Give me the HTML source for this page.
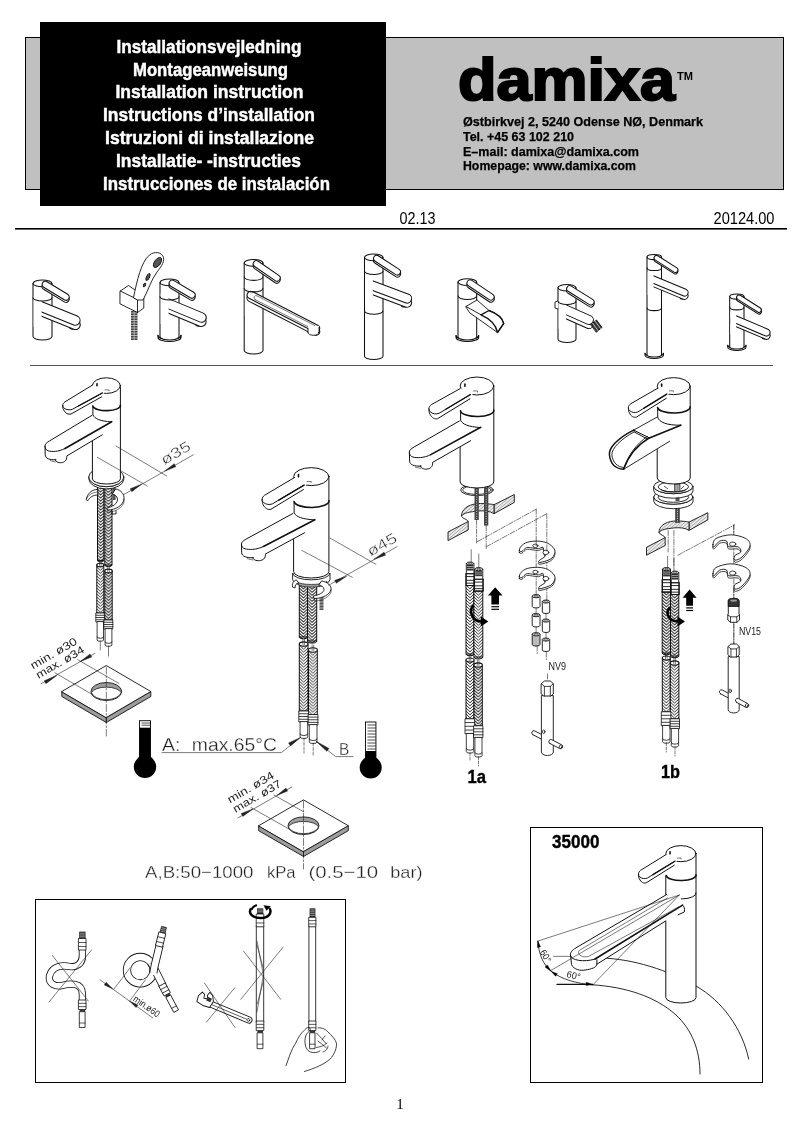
<!DOCTYPE html>
<html><head><meta charset="utf-8">
<style>
html,body{margin:0;padding:0;background:#fff;}
body{width:802px;height:1134px;overflow:hidden;position:relative;font-family:"Liberation Sans",sans-serif;}
svg{position:absolute;left:0;top:0;display:block}
text{font-family:"Liberation Sans",sans-serif;}
.hb{font-weight:bold;font-size:18px;fill:#fff;stroke:#fff;stroke-width:.45}
.ad{font-weight:bold;font-size:13px;fill:#000;stroke:#000;stroke-width:.25}
.ln{fill:none;stroke:#111;stroke-width:1;stroke-linecap:round;stroke-linejoin:round}
.th{fill:none;stroke:#222;stroke-width:.6;stroke-linecap:round;stroke-linejoin:round}
.wf{fill:#fff;stroke:#111;stroke-width:1;stroke-linecap:round;stroke-linejoin:round}
</style></head>
<body>
<svg width="802" height="1134" viewBox="0 0 802 1134" style="filter:grayscale(1)">
<defs>
<pattern id="braid" width="4" height="3.2" patternUnits="userSpaceOnUse">
<rect width="4" height="3.2" fill="#fff"/>
<path d="M-0.5 -0.5L2 2L4.5 -0.5M-0.5 2.7L2 5.2L4.5 2.7" stroke="#222" stroke-width=".85" fill="none"/>
</pattern>
<pattern id="hat" width="2.4" height="2.4" patternUnits="userSpaceOnUse" patternTransform="rotate(-40)">
<rect width="2.4" height="2.4" fill="#eee"/>
<path d="M0 0H2.4" stroke="#333" stroke-width=".6"/>
</pattern>
<pattern id="hat2" width="2" height="2" patternUnits="userSpaceOnUse">
<rect width="2" height="2" fill="#d8d8d8"/>
<path d="M0 0L2 2M2 0L0 2" stroke="#555" stroke-width=".45"/>
</pattern>
</defs>
<!-- HEADER -->
<g id="header">
<rect x="25.5" y="37.5" width="758" height="152" fill="#c0c0c0" stroke="#000" stroke-width="1"/>
<rect x="40" y="22" width="346" height="184" fill="#000"/>
<text class="hb" x="116.5" y="52.8" textLength="185" lengthAdjust="spacingAndGlyphs">Installationsvejledning</text>
<text class="hb" x="133" y="75.6" textLength="155" lengthAdjust="spacingAndGlyphs">Montageanweisung</text>
<text class="hb" x="115.5" y="98.4" textLength="188" lengthAdjust="spacingAndGlyphs">Installation instruction</text>
<text class="hb" x="103" y="121.2" textLength="212" lengthAdjust="spacingAndGlyphs">Instructions d’installation</text>
<text class="hb" x="105" y="144" textLength="209" lengthAdjust="spacingAndGlyphs">Istruzioni di installazione</text>
<text class="hb" x="116" y="166.8" textLength="185" lengthAdjust="spacingAndGlyphs">Installatie- -instructies</text>
<text class="hb" x="103" y="189.6" textLength="227" lengthAdjust="spacingAndGlyphs">Instrucciones de instalación</text>
<text x="458" y="100" font-weight="bold" font-size="60" textLength="217" lengthAdjust="spacingAndGlyphs" fill="#000" stroke="#000" stroke-width="2.2">damixa</text>
<text x="677" y="79.5" font-weight="bold" font-size="10" textLength="16" lengthAdjust="spacingAndGlyphs">TM</text>
<text class="ad" x="463" y="126" textLength="240" lengthAdjust="spacingAndGlyphs">Østbirkvej 2, 5240 Odense NØ, Denmark</text>
<text class="ad" x="463" y="141" textLength="111" lengthAdjust="spacingAndGlyphs">Tel. +45 63 102 210</text>
<text class="ad" x="463" y="156" textLength="176" lengthAdjust="spacingAndGlyphs">E–mail: damixa@damixa.com</text>
<text class="ad" x="463" y="170" textLength="173" lengthAdjust="spacingAndGlyphs">Homepage: www.damixa.com</text>
<text x="399.6" y="223.8" font-size="17" textLength="36" lengthAdjust="spacingAndGlyphs">02.13</text>
<text x="713.5" y="223.8" font-size="17" textLength="61" lengthAdjust="spacingAndGlyphs">20124.00</text>
<rect x="15" y="228" width="772" height="1.6" fill="#000"/>
<rect x="30" y="365" width="743" height="1" fill="#555"/>
</g>
<g id="thumbs"><g><path class="wf" style="stroke-width:1.05" d="M33 283.42 V336.58 A9.5 3.42 0 0 0 52 336.58 V283.42 A9.5 3.42 0 0 0 33 283.42 Z"/><path class="ln" style="stroke-width:1.05" d="M33 283.42 A9.5 3.42 0 0 0 52 283.42"/><ellipse class="wf" style="stroke-width:1.05" cx="72.65" cy="327.62" rx="2.85" ry="1.62"/><path class="wf" style="stroke-width:1.05" d="M37.87 314.68 L73.72 329.18 A4.75 4.75 0 0 0 77.28 320.37 L41.43 305.87 A4.75 4.75 0 0 0 37.87 314.68 Z"/><path class="wf" style="stroke-width:1.05" d="M37.87 310.4 L73.72 324.9 A4.75 4.75 0 0 0 77.28 316.1 L41.43 301.6 A4.75 4.75 0 0 0 37.87 310.4 Z"/><path fill="#fff" d="M33.62 296.5 H41.55 V326.9 H33.62 Z"/><path class="ln" style="stroke-width:1.05" d="M33 297.67 A9.5 3.42 0 0 0 52 297.67"/><path class="wf" style="stroke-width:1.05" d="M43.67 289.3 L64.32 301.85 A3.23 3.23 0 0 0 67.68 296.33 L47.03 283.78 A3.23 3.23 0 0 0 43.67 289.3 Z"/><path class="wf" style="stroke-width:1.05" d="M43.67 287.21 L64.32 299.76 A3.23 3.23 0 0 0 67.68 294.24 L47.03 281.69 A3.23 3.23 0 0 0 43.67 287.21 Z"/></g><g><path class="wf" style="stroke-width:1.05" d="M158 335.38 A11.5 4.14 0 0 0 181 335.38 V337.38 A11.5 4.14 0 0 1 158 337.38 Z"/><path class="ln" style="stroke-width:1.05" d="M158 335.38 A11.5 4.14 0 0 0 181 335.38"/><path class="wf" style="stroke-width:1.05" d="M160 282.42 V336.58 A9.5 3.42 0 0 0 179 336.58 V282.42 A9.5 3.42 0 0 0 160 282.42 Z"/><path class="ln" style="stroke-width:1.05" d="M160 282.42 A9.5 3.42 0 0 0 179 282.42"/><ellipse class="wf" style="stroke-width:1.05" cx="198.65" cy="324.62" rx="2.85" ry="1.62"/><path class="wf" style="stroke-width:1.05" d="M164.83 311.66 L199.68 326.16 A4.75 4.75 0 0 0 203.32 317.39 L168.47 302.89 A4.75 4.75 0 0 0 164.83 311.66 Z"/><path class="wf" style="stroke-width:1.05" d="M164.83 307.39 L199.68 321.89 A4.75 4.75 0 0 0 203.32 313.11 L168.47 298.61 A4.75 4.75 0 0 0 164.83 307.39 Z"/><path fill="#fff" d="M160.62 293.5 H168.55 V323.9 H160.62 Z"/><path class="ln" style="stroke-width:1.05" d="M160 296.67 A9.5 3.42 0 0 0 179 296.67"/><path class="wf" style="stroke-width:1.05" d="M170.71 288.32 L190.36 299.87 A3.23 3.23 0 0 0 193.64 294.31 L173.99 282.75 A3.23 3.23 0 0 0 170.71 288.32 Z"/><path class="wf" style="stroke-width:1.05" d="M170.71 286.23 L190.36 297.78 A3.23 3.23 0 0 0 193.64 292.22 L173.99 280.66 A3.23 3.23 0 0 0 170.71 286.23 Z"/></g><g class="wf" style="stroke-width:.9"><rect x="131" y="311" width="6.5" height="29" fill="#444" stroke="none"/><path d="M131 313h6.5M131 315.5h6.5M131 318h6.5M131 320.5h6.5M131 323h6.5M131 325.5h6.5M131 328h6.5M131 330.500h6.5M131 333h6.5M131 335.5h6.5M131 338h6.5" stroke="#fff" stroke-width=".6"/><path d="M134.2 311V340" stroke="#fff" stroke-width=".5" stroke-dasharray="1.5 1"/><path d="M120.3 291 L128.5 285.5 L143.8 296 L143.8 308 L137.5 312.5 L120.3 304 Z"/><path class="ln" style="stroke-width:.9" d="M120.3 291 L137.5 299.500 L143.8 296 M137.5 299.5 V312.5"/><path d="M133.500 297.500 C137 281 141 262 149.500 255 C154.500 251 162 252 163.500 257.500 C164.500 263 160 268 157 272 C151 280 148 291 143 300 L138 300 Z"/><ellipse cx="157.5" cy="262.5" rx="3" ry="5.8" transform="rotate(35 157.5 262.5)" fill="#555"/><ellipse cx="148" cy="277" rx="1.5" ry="3.6" transform="rotate(25 148 277)" fill="#555"/><ellipse cx="144.5" cy="285" rx="1" ry="2" transform="rotate(25 144.5 285)" fill="#555"/></g><g><path class="wf" style="stroke-width:1.05" d="M244.2 262.88 V350.62 A9.4 3.38 0 0 0 263 350.62 V262.88 A9.4 3.38 0 0 0 244.2 262.88 Z"/><path class="ln" style="stroke-width:1.05" d="M244.2 262.88 A9.4 3.38 0 0 0 263 262.88"/><path class="wf" style="stroke-width:1.05" d="M249.06 301.35 L314.28 334.85 A3.76 3.76 0 0 0 317.72 328.16 L252.5 294.66 A3.76 3.76 0 0 0 249.06 301.35 Z"/><path class="wf" style="stroke-width:1.05" d="M249.06 298.34 L314.28 331.84 A3.76 3.76 0 0 0 317.72 325.16 L252.5 291.66 A3.76 3.76 0 0 0 249.06 298.34 Z"/><path class="th" d="M255.05 299.52 L313.1 329.33 A2.07 2.07 0 0 0 314.99 325.66 L256.94 295.84 A2.07 2.07 0 0 0 255.05 299.52 Z"/><path fill="#fff" d="M244.82 285.6 H244.67 V315.68 H244.82 Z"/><path class="ln" style="stroke-width:1.05" d="M244.2 276.98 A9.4 3.38 0 0 0 263 276.98"/><path class="ln" style="stroke-width:1.05" d="M244.2 288.5 A9.4 3.38 0 0 0 263 288.5"/><path class="wf" style="stroke-width:1.05" d="M254.61 268.6 L275.19 282.7 A3.2 3.2 0 0 0 278.81 277.43 L258.23 263.33 A3.2 3.2 0 0 0 254.61 268.6 Z"/><path class="wf" style="stroke-width:1.05" d="M254.61 266.54 L275.19 280.64 A3.2 3.2 0 0 0 278.81 275.36 L258.23 261.26 A3.2 3.2 0 0 0 254.61 266.54 Z"/></g><ellipse class="wf" style="stroke-width:.9" cx="313.5" cy="332.5" rx="5.5" ry="2.8"/><path fill="#fff" d="M308 326h11v6h-11z"/><path class="ln" style="stroke-width:.9" d="M308 328.5 V332.5 M319 327.5 V332.500"/><g><path class="wf" style="stroke-width:1.05" d="M364.5 257.33 V356.17 A9.25 3.33 0 0 0 383 356.17 V257.33 A9.25 3.33 0 0 0 364.5 257.33 Z"/><path class="ln" style="stroke-width:1.05" d="M364.5 257.33 A9.25 3.33 0 0 0 383 257.33"/><ellipse class="wf" style="stroke-width:1.05" cx="404.23" cy="305.44" rx="2.77" ry="1.57"/><path class="wf" style="stroke-width:1.05" d="M369.35 293.49 L405.38 306.99 A4.62 4.62 0 0 0 408.62 298.33 L372.6 284.83 A4.62 4.62 0 0 0 369.35 293.49 Z"/><path class="wf" style="stroke-width:1.05" d="M369.35 289.33 L405.38 302.83 A4.62 4.62 0 0 0 408.62 294.17 L372.6 280.67 A4.62 4.62 0 0 0 369.35 289.33 Z"/><path fill="#fff" d="M365.12 275.75 H372.82 V305.35 H365.12 Z"/><path class="ln" style="stroke-width:1.05" d="M364.5 271.2 A9.25 3.33 0 0 0 383 271.2"/><path class="ln" style="stroke-width:1.05" d="M364.5 311 A9.25 3.33 0 0 0 383 311"/><path class="wf" style="stroke-width:1.05" d="M374.81 263 L395.78 276.67 A3.15 3.15 0 0 0 399.22 271.4 L378.24 257.73 A3.15 3.15 0 0 0 374.81 263 Z"/><path class="wf" style="stroke-width:1.05" d="M374.81 260.96 L395.78 274.63 A3.15 3.15 0 0 0 399.22 269.37 L378.24 255.69 A3.15 3.15 0 0 0 374.81 260.96 Z"/></g><g><path class="wf" style="stroke-width:1.05" d="M456 335.43 A11.35 4.09 0 0 0 478.7 335.43 V337.43 A11.35 4.09 0 0 1 456 337.43 Z"/><path class="ln" style="stroke-width:1.05" d="M456 335.43 A11.35 4.09 0 0 0 478.7 335.43"/><path class="wf" style="stroke-width:1.05" d="M458 282.07 V336.63 A9.35 3.37 0 0 0 476.7 336.63 V282.07 A9.35 3.37 0 0 0 458 282.07 Z"/><path class="ln" style="stroke-width:1.05" d="M458 282.07 A9.35 3.37 0 0 0 476.7 282.07"/><g class="wf" style="stroke-width:.9"><path d="M466 306.5 L477 300 L489 310.500 C497 313.500 502.500 318 503.700 323.500 L497.500 332.500 L470 313 Z"/><path class="ln" d="M481 314.800 L489 310.500 C497 313.500 502.500 318 503.700 323.500 L497.500 332.500 C496 324.500 489.500 318.500 481 314.800 Z" style="stroke-width:1.4"/><path class="ln" style="stroke-width:.9" d="M466 306.5 L481 314.800"/></g><path class="ln" style="stroke-width:1.05" d="M458 296.09 A9.35 3.37 0 0 0 476.7 296.09"/><path class="wf" style="stroke-width:1.05" d="M468.39 287.78 L489.23 301.7 A3.18 3.18 0 0 0 492.77 296.41 L471.92 282.49 A3.18 3.18 0 0 0 468.39 287.78 Z"/><path class="wf" style="stroke-width:1.05" d="M468.39 285.72 L489.23 299.64 A3.18 3.18 0 0 0 492.77 294.36 L471.92 280.43 A3.18 3.18 0 0 0 468.39 285.72 Z"/></g><g><path class="wf" style="stroke-width:1.05" d="M558 287.74 V339.26 A9 3.24 0 0 0 576 339.26 V287.74 A9 3.24 0 0 0 558 287.74 Z"/><path class="ln" style="stroke-width:1.05" d="M558 287.74 A9 3.24 0 0 0 576 287.74"/><path class="wf" style="stroke-width:1.05" d="M562.47 317.16 L587.17 328.16 A4.5 4.5 0 0 0 590.83 319.94 L566.13 308.94 A4.5 4.5 0 0 0 562.47 317.16 Z"/><path class="wf" style="stroke-width:1.05" d="M562.47 313.11 L587.17 324.11 A4.5 4.5 0 0 0 590.83 315.89 L566.13 304.89 A4.5 4.5 0 0 0 562.47 313.11 Z"/><path fill="#fff" d="M558.62 300 H566.1 V328.8 H558.62 Z"/><path class="ln" style="stroke-width:1.05" d="M558 301.24 A9 3.24 0 0 0 576 301.24"/><path class="wf" style="stroke-width:1.05" d="M568.08 293.29 L589.38 306.58 A3.06 3.06 0 0 0 592.62 301.38 L571.32 288.1 A3.06 3.06 0 0 0 568.08 293.29 Z"/><path class="wf" style="stroke-width:1.05" d="M568.08 291.31 L589.38 304.6 A3.06 3.06 0 0 0 592.62 299.4 L571.32 286.12 A3.06 3.06 0 0 0 568.08 291.31 Z"/></g><g class="wf" style="stroke-width:.9"><path d="M558 309 l-3 -1 v-6 l3 -1"/><path d="M591 324.500 l5.500 -4.500 l5.500 7.500 l-5.500 4.500 Z" fill="#333"/><path d="M592.5 323 l5.5 7.5 M595 321 l5.5 7.5" stroke="#fff" stroke-width=".7"/></g><g><path class="wf" style="stroke-width:1.05" d="M645 353.19 A9.25 3.33 0 0 0 663.5 353.19 V355.19 A9.25 3.33 0 0 1 645 355.19 Z"/><path class="ln" style="stroke-width:1.05" d="M645 353.19 A9.25 3.33 0 0 0 663.5 353.19"/><path class="wf" style="stroke-width:1.05" d="M647 257.01 V354.39 A7.25 2.61 0 0 0 661.5 354.39 V257.01 A7.25 2.61 0 0 0 647 257.01 Z"/><path class="ln" style="stroke-width:1.05" d="M647 257.01 A7.25 2.61 0 0 0 661.5 257.01"/><ellipse class="wf" style="stroke-width:1.05" cx="682.33" cy="297.94" rx="2.17" ry="1.23"/><path class="wf" style="stroke-width:1.05" d="M650.68 285.61 L683.11 299.11 A3.62 3.62 0 0 0 685.89 292.42 L653.47 278.92 A3.62 3.62 0 0 0 650.68 285.61 Z"/><path class="wf" style="stroke-width:1.05" d="M650.68 282.35 L683.11 295.85 A3.62 3.62 0 0 0 685.89 289.15 L653.47 275.65 A3.62 3.62 0 0 0 650.68 282.35 Z"/><path fill="#fff" d="M647.62 271.75 H653.52 V294.95 H647.62 Z"/><path class="ln" style="stroke-width:1.05" d="M647 267.88 A7.25 2.61 0 0 0 661.5 267.88"/><path class="ln" style="stroke-width:1.05" d="M647 308 A7.25 2.61 0 0 0 661.5 308"/><path class="wf" style="stroke-width:1.05" d="M655.1 261.46 L674.17 273.67 A2.47 2.47 0 0 0 676.83 269.52 L657.75 257.31 A2.47 2.47 0 0 0 655.1 261.46 Z"/><path class="wf" style="stroke-width:1.05" d="M655.1 259.87 L674.17 272.08 A2.47 2.47 0 0 0 676.83 267.92 L657.75 255.72 A2.47 2.47 0 0 0 655.1 259.87 Z"/></g><g><path class="wf" style="stroke-width:1.05" d="M727.7 345.23 A9.15 3.29 0 0 0 746 345.23 V347.23 A9.15 3.29 0 0 1 727.7 347.23 Z"/><path class="ln" style="stroke-width:1.05" d="M727.7 345.23 A9.15 3.29 0 0 0 746 345.23"/><path class="wf" style="stroke-width:1.05" d="M729.7 296.57 V346.43 A7.15 2.57 0 0 0 744 346.43 V296.57 A7.15 2.57 0 0 0 729.7 296.57 Z"/><path class="ln" style="stroke-width:1.05" d="M729.7 296.57 A7.15 2.57 0 0 0 744 296.57"/><ellipse class="wf" style="stroke-width:1.05" cx="764.36" cy="337.86" rx="2.14" ry="1.22"/><path class="wf" style="stroke-width:1.05" d="M733.31 325.51 L765.1 339.01 A3.57 3.57 0 0 0 767.9 332.43 L736.1 318.93 A3.57 3.57 0 0 0 733.31 325.51 Z"/><path class="wf" style="stroke-width:1.05" d="M733.31 322.29 L765.1 335.79 A3.57 3.57 0 0 0 767.9 329.21 L736.1 315.71 A3.57 3.57 0 0 0 733.31 322.29 Z"/><path fill="#fff" d="M730.33 311.85 H736.13 V334.73 H730.33 Z"/><path class="ln" style="stroke-width:1.05" d="M729.7 307.3 A7.15 2.57 0 0 0 744 307.3"/><path class="wf" style="stroke-width:1.05" d="M737.7 300.97 L757.7 313.63 A2.43 2.43 0 0 0 760.3 309.52 L740.29 296.86 A2.43 2.43 0 0 0 737.7 300.97 Z"/><path class="wf" style="stroke-width:1.05" d="M737.7 299.4 L757.7 312.05 A2.43 2.43 0 0 0 760.3 307.95 L740.29 295.29 A2.43 2.43 0 0 0 737.7 299.4 Z"/></g></g>
<g id="d1"><defs><pattern id="b1" x="97.5" y="0" width="6.3" height="3" patternUnits="userSpaceOnUse"><rect width="6.3" height="3" fill="#fff"/><path d="M0 -6 L3.15 -3.01 L6.3 -6M0 -3 L3.15 -0.01 L6.3 -3M0 0 L3.15 2.99 L6.3 0M0 3 L3.15 5.99 L6.3 3M0 6 L3.15 8.99 L6.3 6" stroke="#222" stroke-width="0.95" fill="none"/></pattern></defs><rect x="97.5" y="486" width="6.3" height="74.5" fill="url(#b1)"/><path class="ln" style="stroke-width:1.0" d="M97.5 486 V560.5 M103.8 486 V560.5"/><path class="ln" style="stroke-width:1.0" d="M97.5 486 H103.8"/><path d="M97.5 560.5 A3.15 1.42 0 0 0 103.8 560.5 Z" fill="url(#b1)" stroke="#111" stroke-width="1.0"/><defs><pattern id="b2" x="104.8" y="0" width="7.2" height="3" patternUnits="userSpaceOnUse"><rect width="7.2" height="3" fill="#fff"/><path d="M0 -6 L3.6 -2.58 L7.2 -6M0 -3 L3.6 0.42 L7.2 -3M0 0 L3.6 3.42 L7.2 0M0 3 L3.6 6.42 L7.2 3M0 6 L3.6 9.42 L7.2 6" stroke="#222" stroke-width="0.95" fill="none"/></pattern></defs><rect x="104.8" y="486" width="7.2" height="79" fill="url(#b2)"/><path class="ln" style="stroke-width:1.0" d="M104.8 486 V565 M112 486 V565"/><path class="ln" style="stroke-width:1.0" d="M104.8 486 H112"/><path d="M104.8 565 A3.6 1.62 0 0 0 112 565 Z" fill="url(#b2)" stroke="#111" stroke-width="1.0"/><defs><pattern id="b3" x="96.8" y="0" width="7" height="3" patternUnits="userSpaceOnUse"><rect width="7" height="3" fill="#fff"/><path d="M0 -6 L3.5 -2.68 L7 -6M0 -3 L3.5 0.32 L7 -3M0 0 L3.5 3.32 L7 0M0 3 L3.5 6.32 L7 3M0 6 L3.5 9.32 L7 6" stroke="#222" stroke-width="0.95" fill="none"/></pattern></defs><rect x="96.8" y="565" width="7" height="48" fill="url(#b3)"/><path class="ln" style="stroke-width:1.0" d="M96.8 565 V613 M103.8 565 V613"/><path class="th" d="M99.5 565 v-5 M101.1 565 v-5"/><ellipse cx="100.3" cy="565" rx="3.5" ry="1.75" fill="#fff" stroke="#111" stroke-width="1.1"/><path class="th" d="M99.5 563.5 v2 M101.1 563.5 v2"/><path class="ln" style="stroke-width:1.0" d="M96.8 613 H103.8"/><defs><pattern id="b4" x="104.8" y="0" width="7.4" height="3" patternUnits="userSpaceOnUse"><rect width="7.4" height="3" fill="#fff"/><path d="M0 -6 L3.7 -2.48 L7.4 -6M0 -3 L3.7 0.52 L7.4 -3M0 0 L3.7 3.52 L7.4 0M0 3 L3.7 6.52 L7.4 3M0 6 L3.7 9.52 L7.4 6" stroke="#222" stroke-width="0.95" fill="none"/></pattern></defs><rect x="104.8" y="571" width="7.4" height="49" fill="url(#b4)"/><path class="ln" style="stroke-width:1.0" d="M104.8 571 V620 M112.2 571 V620"/><path class="th" d="M107.7 571 v-5 M109.3 571 v-5"/><ellipse cx="108.5" cy="571" rx="3.7" ry="1.85" fill="#fff" stroke="#111" stroke-width="1.1"/><path class="th" d="M107.7 569.5 v2 M109.3 569.5 v2"/><path class="ln" style="stroke-width:1.0" d="M104.8 620 H112.2"/><rect x="96.2" y="613" width="8.2" height="9" class="wf" style="stroke-width:0.8"/><path class="ln" style="stroke-width:0.8" d="M96.2 615.25 H104.4"/><path class="ln" style="stroke-width:0.8" d="M96.2 617.5 H104.4"/><path class="ln" style="stroke-width:0.8" d="M96.2 619.75 H104.4"/><path class="wf" style="stroke-width:0.8" d="M97.1 622 V640 A3.2 1.28 0 0 0 103.5 640 V622 Z"/><path class="ln" style="stroke-width:0.8" d="M97.1 637 A3.2 1.28 0 0 0 103.5 637"/><rect x="104.2" y="620" width="8.6" height="9" class="wf" style="stroke-width:0.8"/><path class="ln" style="stroke-width:0.8" d="M104.2 622.25 H112.8"/><path class="ln" style="stroke-width:0.8" d="M104.2 624.5 H112.8"/><path class="ln" style="stroke-width:0.8" d="M104.2 626.75 H112.8"/><path class="wf" style="stroke-width:0.8" d="M105.1 629 V645 A3.4 1.36 0 0 0 111.9 645 V629 Z"/><path class="ln" style="stroke-width:0.8" d="M105.1 642 A3.4 1.36 0 0 0 111.9 642"/><path class="th"  d="M100.3 641 L100.3 650"/><path class="th"  d="M108.5 646 L108.5 656"/><path class="wf" style="stroke-width:.9" d="M97.5 489.5 C92 489 87 494 86.3 499.5 L87.5 501 C90 497 93 495 97.5 495 Z"/><path class="th" d="M86.3 499.5 C88 495 92 492.5 97.5 492"/><rect x="112.6" y="487" width="3" height="13" fill="#555"/><path class="wf" style="stroke-width:.9" d="M116 489 C121 490 124.5 494 124 499 C123.5 505 116 510 107.5 510 L106.8 508 C113 507 118 503 117.5 499 C117 496 115 494.5 112.5 494 Z"/><path class="th" d="M124 499 L124 502 C123 507 116 512 108 512.3 L107.5 510"/><path class="ln" style="stroke-width:.9" d="M112 511.5 v2.5 h4 v-3"/><path class="wf" style="stroke-width:.9" d="M88.8 477 A17.5 9.7 0 0 0 123.8 477 v2.2 A17.5 9.7 0 0 1 88.8 479.2 Z"/><ellipse class="wf" style="stroke-width:.9" cx="106.3" cy="477" rx="17.5" ry="9.7"/><g><path fill="#fff" d="M92.4 385.6 V478.96 A14 5.04 0 0 0 120.4 478.96 V385.6 A14 7.8 0 0 0 92.4 385.6 Z"/><path class="ln" style="stroke-width:1.0" d="M120.4 385.6 V478.96 A14 5.04 0 0 1 92.4 478.96 V441"/><ellipse class="wf" style="stroke-width:1.0" cx="106.4" cy="385.6" rx="14" ry="7.8"/><path class="ln" style="stroke-width:1.6" d="M92.8 406 A13.8 5.04 0 0 0 120.4 405.2"/><path fill="#fff" d="M91.7 415.5 L49.4 441 C46.4 442.8 45 444 45 446 L45.2 454.8 C45.4 458.5 49.4 460 56 459.8 C59.4 463.5 66.4 461.5 66.8 456 L92.4 440.8 L102.3 434.8 L111.7 421.7 Z"/><path class="ln" style="stroke-width:1.0" d="M92.9 407.2 V415 L93 415 C95 419 100 421 111 421.9"/><path class="ln" style="stroke-width:1.0" d="M91.7 415.5 L49.4 441 C46.4 442.8 44.8 444.3 45 446.3 C45.2 448.5 45.9 450.1 48.2 450.8 C51.4 451.8 58.4 452.1 65 448.5"/><path class="ln" style="stroke-width:1.6" d="M65 448.5 L111.7 421.7"/><path class="ln" style="stroke-width:1.0" d="M45 446.3 L45.2 454.8 C45.4 458.5 49.4 460 56 459.8"/><path class="ln" style="stroke-width:1.0" d="M55.2 459.3 C54.9 461.5 58.4 463 61.4 462.7 C64.4 462.3 67 460.5 66.8 456.7"/><path class="th" d="M50.4 460.7 L55.4 462"/><path class="ln" style="stroke-width:1.0" d="M66.8 456 L102.3 434.8"/><path fill="#fff" d="M92.7 384.9 L65 401.8 C62.4 403.5 61.9 406.5 63.7 410 C65.4 413.5 68.4 414.5 71 414 L101.7 396.8 L106.4 389.5 Z"/><path class="ln" style="stroke-width:1.0" d="M92.7 384.9 L65 401.8 C62.2 403.7 62 406.5 64 408.1 C66.4 409.9 69.4 410.3 72.4 409.3 L102.3 393"/><path class="ln" style="stroke-width:1.35" d="M78.4 406 L102.3 393"/><path class="ln" style="stroke-width:1.0" d="M62.8 405.5 C62.6 408 63.1 409 63.7 410 C65.4 413.5 68.4 414.7 71 414 L101.7 396.8"/><path class="ln" style="stroke-width:1.6" d="M97 383.8 l0 2"/><path class="th" d="M105 389.9 h4 v1"/></g><path class="th"  d="M97.3 457.3 L147.2 486"/><path class="th"  d="M116 446 L166.7 476"/><path class="th"  d="M123.5 494.7 L193.3 454.8"/><path fill="#222" stroke="#222" stroke-width=".4" d="M141.5 484.2 L131.84 491.68 L130.16 488.72 Z"/><path fill="#222" stroke="#222" stroke-width=".4" d="M164.5 471.2 L174.16 463.72 L175.84 466.68 Z"/><text transform="translate(164.3 465.2) rotate(-30)" font-size="14.5" fill="#222" font-weight="normal" textLength="32" lengthAdjust="spacingAndGlyphs" stroke="#fff" stroke-width=".35">ø35</text><path d="M61.8 691.5 L106.3 717.5 L150.8 691.5 v5 L106.3 722.5 L61.8 696.5 v-5 Z" fill="url(#hat2)" stroke="#111" stroke-width="0.9" stroke-linejoin="round"/><path class="wf" style="stroke-width:0.9" d="M61.8 691.5 L106.3 665.5 L150.8 691.5 L106.3 717.5 Z"/><path class="ln" style="stroke-width:0.9" d="M106.3 717.5 v5"/><ellipse cx="106.3" cy="691.5" rx="15.3" ry="9" fill="url(#hat2)" stroke="#111" stroke-width="0.9"/><path fill="#fff" stroke="#111" stroke-width="0.7200000000000001" d="M91.4 692.7 A15.3 9 0 0 0 121.2 692.7 A15.3 7.2 0 0 0 91.4 692.7 Z"/><path class="th" stroke-dasharray="7 2 1.5 2" d="M106.3 667 L106.3 736"/><path class="th"  d="M55 672.8 L92.8 694.8"/><path class="th"  d="M77.9 659.8 L119 683.5"/><path class="th"  d="M41 683.8 L94.8 653.4"/><path fill="#222" stroke="#222" stroke-width=".4" d="M57 675.4 L45.85 683.77 L44.15 680.83 Z"/><path fill="#222" stroke="#222" stroke-width=".4" d="M79.9 661.8 L90.06 654.02 L91.74 656.98 Z"/><text transform="translate(33 669.5) rotate(-30)" font-size="11" fill="#222" font-weight="normal" textLength="52" lengthAdjust="spacingAndGlyphs" >min. ø30</text><text transform="translate(38.5 679) rotate(-30)" font-size="11" fill="#222" font-weight="normal" textLength="54" lengthAdjust="spacingAndGlyphs" >max. ø34</text></g>
<g id="d2"><defs><pattern id="b5" x="299.3" y="0" width="8.2" height="3" patternUnits="userSpaceOnUse"><rect width="8.2" height="3" fill="#fff"/><path d="M0 -6 L4.1 -2.11 L8.2 -6M0 -3 L4.1 0.89 L8.2 -3M0 0 L4.1 3.89 L8.2 0M0 3 L4.1 6.89 L8.2 3M0 6 L4.1 9.89 L8.2 6" stroke="#222" stroke-width="0.95" fill="none"/></pattern></defs><rect x="299.3" y="583" width="8.2" height="54" fill="url(#b5)"/><path class="ln" style="stroke-width:1.0" d="M299.3 583 V637 M307.5 583 V637"/><path class="ln" style="stroke-width:1.0" d="M299.3 583 H307.5"/><path d="M299.3 637 A4.1 1.84 0 0 0 307.5 637 Z" fill="url(#b5)" stroke="#111" stroke-width="1.0"/><defs><pattern id="b6" x="307.5" y="0" width="9.2" height="3" patternUnits="userSpaceOnUse"><rect width="9.2" height="3" fill="#fff"/><path d="M0 -6 L4.6 -1.63 L9.2 -6M0 -3 L4.6 1.37 L9.2 -3M0 0 L4.6 4.37 L9.2 0M0 3 L4.6 7.37 L9.2 3M0 6 L4.6 10.37 L9.2 6" stroke="#222" stroke-width="0.95" fill="none"/></pattern></defs><rect x="307.5" y="583" width="9.2" height="58" fill="url(#b6)"/><path class="ln" style="stroke-width:1.0" d="M307.5 583 V641 M316.7 583 V641"/><path class="ln" style="stroke-width:1.0" d="M307.5 583 H316.7"/><path d="M307.5 641 A4.6 2.07 0 0 0 316.7 641 Z" fill="url(#b6)" stroke="#111" stroke-width="1.0"/><defs><pattern id="b7" x="299.3" y="0" width="8.7" height="3" patternUnits="userSpaceOnUse"><rect width="8.7" height="3" fill="#fff"/><path d="M0 -6 L4.35 -1.87 L8.7 -6M0 -3 L4.35 1.13 L8.7 -3M0 0 L4.35 4.13 L8.7 0M0 3 L4.35 7.13 L8.7 3M0 6 L4.35 10.13 L8.7 6" stroke="#222" stroke-width="0.95" fill="none"/></pattern></defs><rect x="299.3" y="644" width="8.7" height="67" fill="url(#b7)"/><path class="ln" style="stroke-width:1.0" d="M299.3 644 V711 M308 644 V711"/><path class="th" d="M302.85 644 v-5 M304.45 644 v-5"/><ellipse cx="303.65" cy="644" rx="4.35" ry="2.17" fill="#fff" stroke="#111" stroke-width="1.1"/><path class="th" d="M302.85 642.5 v2 M304.45 642.5 v2"/><path class="ln" style="stroke-width:1.0" d="M299.3 711 H308"/><defs><pattern id="b8" x="308.5" y="0" width="8.8" height="3" patternUnits="userSpaceOnUse"><rect width="8.8" height="3" fill="#fff"/><path d="M0 -6 L4.4 -1.82 L8.8 -6M0 -3 L4.4 1.18 L8.8 -3M0 0 L4.4 4.18 L8.8 0M0 3 L4.4 7.18 L8.8 3M0 6 L4.4 10.18 L8.8 6" stroke="#222" stroke-width="0.95" fill="none"/></pattern></defs><rect x="308.5" y="650" width="8.8" height="64.5" fill="url(#b8)"/><path class="ln" style="stroke-width:1.0" d="M308.5 650 V714.5 M317.3 650 V714.5"/><path class="th" d="M312.1 650 v-5 M313.7 650 v-5"/><ellipse cx="312.9" cy="650" rx="4.4" ry="2.2" fill="#fff" stroke="#111" stroke-width="1.1"/><path class="th" d="M312.1 648.5 v2 M313.7 648.5 v2"/><path class="ln" style="stroke-width:1.0" d="M308.5 714.5 H317.3"/><rect x="299.2" y="711" width="9.4" height="11" class="wf" style="stroke-width:0.8"/><path class="ln" style="stroke-width:0.8" d="M299.2 713.75 H308.6"/><path class="ln" style="stroke-width:0.8" d="M299.2 716.5 H308.6"/><path class="ln" style="stroke-width:0.8" d="M299.2 719.25 H308.6"/><path class="wf" style="stroke-width:0.8" d="M300.1 722 V737 A3.8 1.52 0 0 0 307.7 737 V722 Z"/><path class="ln" style="stroke-width:0.8" d="M300.1 734 A3.8 1.52 0 0 0 307.7 734"/><rect x="308.4" y="714.5" width="9.5" height="10.5" class="wf" style="stroke-width:0.8"/><path class="ln" style="stroke-width:0.8" d="M308.4 717.12 H317.9"/><path class="ln" style="stroke-width:0.8" d="M308.4 719.75 H317.9"/><path class="ln" style="stroke-width:0.8" d="M308.4 722.38 H317.9"/><path class="wf" style="stroke-width:0.8" d="M309.3 725 V742 A3.85 1.54 0 0 0 317 742 V725 Z"/><path class="ln" style="stroke-width:0.8" d="M309.3 739 A3.85 1.54 0 0 0 317 739"/><path class="th" stroke-dasharray="3 1.5" d="M304 738 L304 753"/><path class="th" stroke-dasharray="3 1.5" d="M313.2 743 L313.2 756"/><path d="M292.6 573 A18.6 6.8 0 0 0 330 573 v6.5 A18.6 6.8 0 0 1 292.6 579.5 Z" fill="#fff" stroke="#111" stroke-width=".9"/><path d="M296 581.5 A17 5 0 0 0 327 581.5 L325 584.5 A14 3.5 0 0 1 298 584.5 Z" fill="url(#hat2)" stroke="#111" stroke-width=".7"/><path class="wf" style="stroke-width:.9" d="M296 580 C293 581 292 584 292.5 587 L295 588 C295 585 296 583.5 298.5 583 Z"/><rect x="319.5" y="596" width="4" height="14" fill="#555"/><path d="M319 599h5M319 602h5M319 605h5M319 608h5" stroke="#fff" stroke-width=".6"/><path class="wf" style="stroke-width:.9" d="M322 581 C328 582 331.5 586 331 589.5 C330.5 594 323 598.5 314 598.5 L313.3 596 C319 595 324 592.5 324 589.5 C324 587 321.5 585.5 319 585 Z"/><path class="th" d="M331 589.5 v2.5 C330 596 323 601 314.5 601 L314 598.5"/><g><path fill="#fff" d="M293.6 476.62 V571.65 A17.65 6.35 0 0 0 328.9 571.65 V476.62 A17.65 8.97 0 0 0 293.6 476.62 Z"/><path class="ln" style="stroke-width:1.0" d="M328.9 476.62 V571.65 A17.65 6.35 0 0 1 293.6 571.65 V539"/><ellipse class="wf" style="stroke-width:1.0" cx="311.25" cy="476.62" rx="17.65" ry="8.97"/><path class="ln" style="stroke-width:1.6" d="M294 501.5 A17.45 6.35 0 0 0 328.9 500.7"/><path fill="#fff" d="M292.83 513.5 L246.3 539 C243 540.8 241.46 542 241.46 544 L241.68 552.8 C241.9 556.5 246.3 558 253.56 557.8 C257.3 561.5 265 559.5 265.44 554 L293.6 538.8 L304.49 532.8 L314.83 519.7 Z"/><path class="ln" style="stroke-width:1.0" d="M294.1 502.7 V513 L294.26 513 C296.46 517 301.96 519 314.06 519.9"/><path class="ln" style="stroke-width:1.0" d="M292.83 513.5 L246.3 539 C243 540.8 241.24 542.3 241.46 544.3 C241.68 546.5 242.45 548.1 244.98 548.8 C248.5 549.8 256.2 550.1 263.46 546.5"/><path class="ln" style="stroke-width:1.6" d="M263.46 546.5 L314.83 519.7"/><path class="ln" style="stroke-width:1.0" d="M241.46 544.3 L241.68 552.8 C241.9 556.5 246.3 558 253.56 557.8"/><path class="ln" style="stroke-width:1.0" d="M252.68 557.3 C252.35 559.5 256.2 561 259.5 560.7 C262.8 560.3 265.66 558.5 265.44 554.7"/><path class="th" d="M247.4 558.7 L252.9 560"/><path class="ln" style="stroke-width:1.0" d="M265.44 554 L304.49 532.8"/><path fill="#fff" d="M294.66 477.42 L264.56 495.25 C261.8 497.2 261.27 500.65 263.18 504.68 C264.98 508.7 268.16 509.85 270.92 509.27 L303.46 489.5 L308.44 481.1 Z"/><path class="ln" style="stroke-width:1.0" d="M294.66 477.42 L264.56 495.25 C261.59 497.43 261.38 500.65 263.5 502.49 C266.04 504.56 269.22 505.02 272.4 503.87 L304.09 485.12"/><path class="ln" style="stroke-width:1.35" d="M278.76 500.07 L304.09 485.12"/><path class="ln" style="stroke-width:1.0" d="M262.22 499.5 C262.01 502.38 262.54 503.52 263.18 504.68 C264.98 508.7 268.16 510.08 270.92 509.27 L303.46 489.5"/><path class="ln" style="stroke-width:1.6" d="M298.48 474.55 l0 2.3"/><path class="th" d="M306.96 481.56 h4.24 v1.15"/></g><path class="th"  d="M301.8 550.4 L352.3 577.3"/><path class="th"  d="M329.9 538 L375.9 564.3"/><path class="th"  d="M328.7 585.2 L397.2 546.6"/><path fill="#222" stroke="#222" stroke-width=".4" d="M346.7 576.2 L336.26 583.32 L334.74 580.28 Z"/><path fill="#222" stroke="#222" stroke-width=".4" d="M373.6 559.4 L384.03 552.18 L385.57 555.22 Z"/><text transform="translate(370.5 556.8) rotate(-30)" font-size="14.5" fill="#222" font-weight="normal" textLength="32" lengthAdjust="spacingAndGlyphs" stroke="#fff" stroke-width=".35">ø45</text><rect x="139.5" y="720.7" width="11" height="46.1" fill="#fff" stroke="#000" stroke-width=".9"/><rect x="139.5" y="727.7" width="11" height="39.1" fill="#000"/><circle cx="145" cy="766.8" r="11.2" fill="#000"/><path d="M141.5 723 H150.5" stroke="#000" stroke-width=".7"/><path d="M141.5 725.2 H150.5" stroke="#000" stroke-width=".7"/><rect x="365.45" y="722" width="10.5" height="45.5" fill="#fff" stroke="#000" stroke-width=".9"/><rect x="365.45" y="751" width="10.5" height="16.5" fill="#000"/><circle cx="370.7" cy="767.5" r="11" fill="#000"/><path d="M367.45 725 H375.95" stroke="#000" stroke-width=".7"/><path d="M367.45 728 H375.95" stroke="#000" stroke-width=".7"/><path d="M367.45 731 H375.95" stroke="#000" stroke-width=".7"/><path d="M367.45 734 H375.95" stroke="#000" stroke-width=".7"/><path d="M367.45 737 H375.95" stroke="#000" stroke-width=".7"/><path d="M367.45 740 H375.95" stroke="#000" stroke-width=".7"/><path d="M367.45 743 H375.95" stroke="#000" stroke-width=".7"/><path d="M367.45 746 H375.95" stroke="#000" stroke-width=".7"/><path d="M367.45 749 H375.95" stroke="#000" stroke-width=".7"/><text x="162" y="750.6" font-size="19" fill="#222" textLength="115" lengthAdjust="spacingAndGlyphs" word-spacing="6" stroke="#fff" stroke-width=".3">A:  max.65°C</text><path class="th" d="M162 752.6 H281.3 L300.4 737.5"/><path fill="#222" stroke="#222" stroke-width=".4" d="M300.4 737.5 L290.46 745.92 L288.54 742.88 Z"/><text x="339" y="755.4" font-size="17" textLength="10.3" lengthAdjust="spacingAndGlyphs" fill="#222" stroke="#fff" stroke-width=".3">B</text><path class="th" d="M353 756.6 H335.7 L316.2 741.4"/><path fill="#222" stroke="#222" stroke-width=".4" d="M316 741.2 L328.96 748.45 L326.84 751.35 Z"/><path d="M258.7 825.7 L303.5 851.5 L348.3 825.7 v5 L303.5 856.5 L258.7 830.7 v-5 Z" fill="url(#hat2)" stroke="#111" stroke-width="0.9" stroke-linejoin="round"/><path class="wf" style="stroke-width:0.9" d="M258.7 825.7 L303.5 799.9 L348.3 825.7 L303.5 851.5 Z"/><path class="ln" style="stroke-width:0.9" d="M303.5 851.5 v5"/><ellipse cx="303.5" cy="825.7" rx="15.5" ry="8.8" fill="url(#hat2)" stroke="#111" stroke-width="0.9"/><path fill="#fff" stroke="#111" stroke-width="0.7200000000000001" d="M288.4 826.9 A15.5 8.8 0 0 0 318.6 826.9 A15.5 7.04 0 0 0 288.4 826.9 Z"/><path class="th" stroke-dasharray="7 2 1.5 2" d="M303.5 801 L303.5 869"/><path class="th"  d="M251 807.5 L288.8 828.9"/><path class="th"  d="M273.9 795 L303.8 811.9"/><path class="th"  d="M238 817.9 L291.8 787"/><path fill="#222" stroke="#222" stroke-width=".4" d="M252.9 808.9 L242.83 816.48 L241.17 813.52 Z"/><path fill="#222" stroke="#222" stroke-width=".4" d="M276.8 795.5 L285.93 788.04 L287.67 790.96 Z"/><text transform="translate(230 803.5) rotate(-30)" font-size="11" fill="#222" font-weight="normal" textLength="52" lengthAdjust="spacingAndGlyphs" >min. ø34</text><text transform="translate(235.5 813) rotate(-30)" font-size="11" fill="#222" font-weight="normal" textLength="54" lengthAdjust="spacingAndGlyphs" >max. ø37</text><text x="145" y="877.8" font-size="17" fill="#222" textLength="108.4" lengthAdjust="spacingAndGlyphs" stroke="#fff" stroke-width=".3">A,B:50−1000</text><text x="266.9" y="877.8" font-size="17" fill="#222" textLength="28.7" lengthAdjust="spacingAndGlyphs" stroke="#fff" stroke-width=".3">kPa</text><text x="308.4" y="877.8" font-size="17" fill="#222" textLength="69.8" lengthAdjust="spacingAndGlyphs" stroke="#fff" stroke-width=".3">(0.5−10</text><text x="390.2" y="877.8" font-size="17" fill="#222" textLength="32.3" lengthAdjust="spacingAndGlyphs" stroke="#fff" stroke-width=".3">bar)</text></g>
<g id="d1a"><path d="M494 504.7 L514.3 494.6 L514.3 502.4 L494 513.7 Z" fill="url(#hat)" stroke="#111" stroke-width=".9" stroke-linejoin="round"/><path d="M461.5 516 C461.5 510 467 504.5 478 503.6 C485 503.4 491 504 494 504.7 L494 513.7 C490 511 484 510.5 478 511 C470 512 464 512.5 461.5 516 Z" fill="url(#hat)" stroke="#111" stroke-width=".9" stroke-linejoin="round"/><path d="M448 532 L468.2 521.5 L468.2 530 L448 540.6 Z" fill="url(#hat)" stroke="#111" stroke-width=".9" stroke-linejoin="round"/><path class="ln" style="stroke-width:.9" d="M468.2 521.5 C468 519 462 519 461.5 516"/><ellipse class="wf" style="stroke-width:.9" cx="476.9" cy="490" rx="16.3" ry="5.6"/><ellipse class="ln" style="stroke-width:.8" cx="476.9" cy="490" rx="14.3" ry="4.4"/><rect x="474.5" y="486" width="4.3" height="34" fill="#444"/><path d="M476.65 487 V520" stroke="#fff" stroke-width=".7" stroke-dasharray="1 1.4"/><rect x="484" y="486" width="4.3" height="39.6" fill="#444"/><path d="M486.15 487 V525.6" stroke="#fff" stroke-width=".7" stroke-dasharray="1 1.4"/><path class="th"  stroke-dasharray="5 1.5 1 1.5" d="M476.6 520 L476.6 543"/><path class="th"  stroke-dasharray="5 1.5 1 1.5" d="M486.2 525.6 L486.2 548.5"/><path class="th"  stroke-dasharray="5 1.5 1 1.5" d="M477.2 541.7 L536.2 509.2"/><path class="th"  stroke-dasharray="5 1.5 1 1.5" d="M486.6 546.6 L546.8 513.7"/><path class="th"  stroke-dasharray="5 1.5 1 1.5" d="M536.2 509.2 L536.2 594"/><path class="th"  stroke-dasharray="5 1.5 1 1.5" d="M546.8 513.7 L546.8 600"/><g><path fill="#fff" d="M460.1 386.01 V481.93 A16.85 6.07 0 0 0 493.8 481.93 V386.01 A16.85 8.97 0 0 0 460.1 386.01 Z"/><path class="ln" style="stroke-width:1.0" d="M493.8 386.01 V481.93 A16.85 6.07 0 0 1 460.1 481.93 V447.01"/><ellipse class="wf" style="stroke-width:1.0" cx="476.95" cy="386.01" rx="16.85" ry="8.97"/><path class="ln" style="stroke-width:1.6" d="M460.5 410.8 A16.65 6.07 0 0 0 493.8 410"/><path fill="#fff" d="M459.35 421 L414.09 447.01 C410.88 448.85 409.38 450.07 409.38 452.11 L409.6 461.09 C409.81 464.86 414.09 466.39 421.15 466.19 C424.79 469.96 432.28 467.92 432.71 462.31 L460.1 446.81 L470.69 440.69 L480.75 427.32 Z"/><path class="ln" style="stroke-width:1.0" d="M460.6 412 V420.5 L460.74 420.49 C462.88 424.57 468.23 426.61 480 427.53"/><path class="ln" style="stroke-width:1.0" d="M459.35 421 L414.09 447.01 C410.88 448.85 409.17 450.38 409.38 452.42 C409.6 454.66 410.35 456.29 412.81 457.01 C416.23 458.03 423.72 458.33 430.78 454.66"/><path class="ln" style="stroke-width:1.6" d="M430.78 454.66 L480.75 427.32"/><path class="ln" style="stroke-width:1.0" d="M409.38 452.42 L409.6 461.09 C409.81 464.86 414.09 466.39 421.15 466.19"/><path class="ln" style="stroke-width:1.0" d="M420.3 465.68 C419.98 467.92 423.72 469.45 426.93 469.14 C430.14 468.74 432.92 466.9 432.71 463.02"/><path class="th" d="M415.16 467.1 L420.51 468.43"/><path class="ln" style="stroke-width:1.0" d="M432.71 462.31 L470.69 440.69"/><path fill="#fff" d="M459.89 388.77 L431.33 404.64 C428.6 406.6 428.08 410.05 429.97 414.07 C431.75 418.1 434.9 419.25 437.63 418.67 L469.87 398.89 L474.8 390.5 Z"/><path class="ln" style="stroke-width:1.0" d="M459.89 388.77 L431.33 404.64 C428.39 406.83 428.18 410.05 430.28 411.89 C432.8 413.96 435.95 414.42 439.1 413.27 L470.5 394.52"/><path class="ln" style="stroke-width:1.35" d="M445.4 409.47 L470.5 394.52"/><path class="ln" style="stroke-width:1.0" d="M429.02 408.9 C428.81 411.77 429.34 412.92 429.97 414.07 C431.75 418.1 434.9 419.48 437.63 418.67 L469.87 398.89"/><path class="ln" style="stroke-width:1.6" d="M464.93 383.94 l0 2.3"/><path class="th" d="M473.33 390.96 h4.2 v1.15"/></g><path class="wf" style="stroke-width:0.8"  d="M519.3 552.4 C519.17 551.53 519.88 549.28 521.2 547.9 C522.52 546.52 524.45 544.93 527.2 544.1 C529.95 543.27 534.33 542.77 537.7 542.9 C541.07 543.03 544.67 543.63 547.4 544.9 C550.13 546.17 552.92 548.7 554.1 550.5 C555.28 552.3 555.12 553.95 554.5 555.7 C553.88 557.45 552.83 559.57 550.4 561 C547.97 562.43 541.78 564.07 539.9 564.3 C538.02 564.53 538.22 563.45 539.1 562.4 C539.98 561.35 544.42 559.42 545.2 558 C545.98 556.58 544.18 555.4 543.8 553.9 C543.42 552.4 543.8 549.57 542.9 549 C542 548.43 540.15 550.37 538.4 550.5 C536.65 550.63 534.38 549.98 532.4 549.8 C530.42 549.62 528.23 548.85 526.5 549.4 C524.77 549.95 523.2 552.6 522 553.1 C520.8 553.6 519.43 553.27 519.3 552.4 Z"/><path class="wf" style="stroke-width:0.9"  d="M519.3 550.6 C519.17 549.73 519.88 547.48 521.2 546.1 C522.52 544.72 524.45 543.13 527.2 542.3 C529.95 541.47 534.33 540.97 537.7 541.1 C541.07 541.23 544.67 541.83 547.4 543.1 C550.13 544.37 552.92 546.9 554.1 548.7 C555.28 550.5 555.12 552.15 554.5 553.9 C553.88 555.65 552.83 557.77 550.4 559.2 C547.97 560.63 541.78 562.27 539.9 562.5 C538.02 562.73 538.22 561.65 539.1 560.6 C539.98 559.55 544.42 557.62 545.2 556.2 C545.98 554.78 544.18 553.6 543.8 552.1 C543.42 550.6 543.8 547.77 542.9 547.2 C542 546.63 540.15 548.57 538.4 548.7 C536.65 548.83 534.38 548.18 532.4 548 C530.42 547.82 528.23 547.05 526.5 547.6 C524.77 548.15 523.2 550.8 522 551.3 C520.8 551.8 519.43 551.47 519.3 550.6 Z"/><ellipse class="wf" style="stroke-width:.8" cx="535.4" cy="545.8" rx="2.6" ry="1.7"/><ellipse class="wf" style="stroke-width:.8" cx="545.9" cy="552.4" rx="2.9" ry="2.2"/><path class="wf" style="stroke-width:0.8"  d="M519.3 578.6 C519.17 577.73 519.88 575.48 521.2 574.1 C522.52 572.72 524.45 571.13 527.2 570.3 C529.95 569.47 534.33 568.97 537.7 569.1 C541.07 569.23 544.67 569.83 547.4 571.1 C550.13 572.37 552.92 574.9 554.1 576.7 C555.28 578.5 555.12 580.15 554.5 581.9 C553.88 583.65 552.83 585.77 550.4 587.2 C547.97 588.63 541.78 590.27 539.9 590.5 C538.02 590.73 538.22 589.65 539.1 588.6 C539.98 587.55 544.42 585.62 545.2 584.2 C545.98 582.78 544.18 581.6 543.8 580.1 C543.42 578.6 543.8 575.77 542.9 575.2 C542 574.63 540.15 576.57 538.4 576.7 C536.65 576.83 534.38 576.18 532.4 576 C530.42 575.82 528.23 575.05 526.5 575.6 C524.77 576.15 523.2 578.8 522 579.3 C520.8 579.8 519.43 579.47 519.3 578.6 Z"/><path class="wf" style="stroke-width:0.9"  d="M519.3 576.8 C519.17 575.93 519.88 573.68 521.2 572.3 C522.52 570.92 524.45 569.33 527.2 568.5 C529.95 567.67 534.33 567.17 537.7 567.3 C541.07 567.43 544.67 568.03 547.4 569.3 C550.13 570.57 552.92 573.1 554.1 574.9 C555.28 576.7 555.12 578.35 554.5 580.1 C553.88 581.85 552.83 583.97 550.4 585.4 C547.97 586.83 541.78 588.47 539.9 588.7 C538.02 588.93 538.22 587.85 539.1 586.8 C539.98 585.75 544.42 583.82 545.2 582.4 C545.98 580.98 544.18 579.8 543.8 578.3 C543.42 576.8 543.8 573.97 542.9 573.4 C542 572.83 540.15 574.77 538.4 574.9 C536.65 575.03 534.38 574.38 532.4 574.2 C530.42 574.02 528.23 573.25 526.5 573.8 C524.77 574.35 523.2 577 522 577.5 C520.8 578 519.43 577.67 519.3 576.8 Z"/><ellipse class="wf" style="stroke-width:.8" cx="535.4" cy="572" rx="2.6" ry="1.7"/><ellipse class="wf" style="stroke-width:.8" cx="545.9" cy="578.6" rx="2.9" ry="2.2"/><path class="th"  d="M536.2 541 L536.2 546"/><path class="th"  d="M546.8 545 L546.8 551"/><path d="M532.2 596.14 V606.36 A3.9 1.64 0 0 0 540 606.36 V596.14 Z" fill="#fff" stroke="#111" stroke-width=".9"/><ellipse cx="536.1" cy="596.14" rx="3.9" ry="1.64" fill="#fff" stroke="#111" stroke-width=".9"/><ellipse cx="536.1" cy="596.14" rx="2.14" ry="0.9" fill="#fff" stroke="#111" stroke-width=".7"/><path d="M532.2 615.14 V625.36 A3.9 1.64 0 0 0 540 625.36 V615.14 Z" fill="#fff" stroke="#111" stroke-width=".9"/><ellipse cx="536.1" cy="615.14" rx="3.9" ry="1.64" fill="#fff" stroke="#111" stroke-width=".9"/><ellipse cx="536.1" cy="615.14" rx="2.14" ry="0.9" fill="#fff" stroke="#111" stroke-width=".7"/><path d="M532.2 634.24 V644.46 A3.9 1.64 0 0 0 540 644.46 V634.24 Z" fill="#bbb" stroke="#111" stroke-width=".9"/><ellipse cx="536.1" cy="634.24" rx="3.9" ry="1.64" fill="#fff" stroke="#111" stroke-width=".9"/><ellipse cx="536.1" cy="634.24" rx="2.14" ry="0.9" fill="#fff" stroke="#111" stroke-width=".7"/><path d="M542.3 601.55 V611.95 A3.7 1.55 0 0 0 549.7 611.95 V601.55 Z" fill="#fff" stroke="#111" stroke-width=".9"/><ellipse cx="546" cy="601.55" rx="3.7" ry="1.55" fill="#fff" stroke="#111" stroke-width=".9"/><ellipse cx="546" cy="601.55" rx="2.04" ry="0.85" fill="#fff" stroke="#111" stroke-width=".7"/><path d="M542.3 620.55 V630.95 A3.7 1.55 0 0 0 549.7 630.95 V620.55 Z" fill="#fff" stroke="#111" stroke-width=".9"/><ellipse cx="546" cy="620.55" rx="3.7" ry="1.55" fill="#fff" stroke="#111" stroke-width=".9"/><ellipse cx="546" cy="620.55" rx="2.04" ry="0.85" fill="#fff" stroke="#111" stroke-width=".7"/><path d="M542.3 639.55 V649.95 A3.7 1.55 0 0 0 549.7 649.95 V639.55 Z" fill="#fff" stroke="#111" stroke-width=".9"/><ellipse cx="546" cy="639.55" rx="3.7" ry="1.55" fill="#fff" stroke="#111" stroke-width=".9"/><ellipse cx="546" cy="639.55" rx="2.04" ry="0.85" fill="#fff" stroke="#111" stroke-width=".7"/><path class="th"  stroke-dasharray="5 1.5 1 1.5" d="M536.1 608 L536.1 613.5"/><path class="th"  stroke-dasharray="5 1.5 1 1.5" d="M536.1 627 L536.1 632.6"/><path class="th"  stroke-dasharray="5 1.5 1 1.5" d="M546 613.5 L546 619"/><path class="th"  stroke-dasharray="5 1.5 1 1.5" d="M546 632.6 L546 638"/><path class="th"  stroke-dasharray="5 1.5 1 1.5" d="M537.2 646 L537.2 654"/><path class="th"  stroke-dasharray="5 1.5 1 1.5" d="M546.3 652 L546.3 660"/><path class="th"  stroke-dasharray="5 1.5 1 1.5" d="M547.5 674 L547.5 680"/><defs><pattern id="b9" x="466" y="0" width="7.9" height="3" patternUnits="userSpaceOnUse"><rect width="7.9" height="3" fill="#fff"/><path d="M0 -6 L3.95 -2.25 L7.9 -6M0 -3 L3.95 0.75 L7.9 -3M0 0 L3.95 3.75 L7.9 0M0 3 L3.95 6.75 L7.9 3M0 6 L3.95 9.75 L7.9 6" stroke="#222" stroke-width="0.95" fill="none"/></pattern></defs><rect x="466" y="585.5" width="7.9" height="68.5" fill="url(#b9)"/><path class="ln" style="stroke-width:1.0" d="M466 585.5 V654 M473.9 585.5 V654"/><path class="ln" style="stroke-width:1.0" d="M466 585.5 H473.9"/><path d="M466 654 A3.95 1.78 0 0 0 473.9 654 Z" fill="url(#b9)" stroke="#111" stroke-width="1.0"/><defs><pattern id="b10" x="473.9" y="0" width="8.9" height="3" patternUnits="userSpaceOnUse"><rect width="8.9" height="3" fill="#fff"/><path d="M0 -6 L4.45 -1.77 L8.9 -6M0 -3 L4.45 1.23 L8.9 -3M0 0 L4.45 4.23 L8.9 0M0 3 L4.45 7.23 L8.9 3M0 6 L4.45 10.23 L8.9 6" stroke="#222" stroke-width="0.95" fill="none"/></pattern></defs><rect x="473.9" y="591" width="8.9" height="66" fill="url(#b10)"/><path class="ln" style="stroke-width:1.0" d="M473.9 591 V657 M482.8 591 V657"/><path class="ln" style="stroke-width:1.0" d="M473.9 591 H482.8"/><path d="M473.9 657 A4.45 2 0 0 0 482.8 657 Z" fill="url(#b10)" stroke="#111" stroke-width="1.0"/><rect x="466.3" y="563.52" width="7.6" height="21.98" fill="#fff" stroke="#111" stroke-width=".9"/><rect x="466.9" y="563.52" width="6.4" height="7.05" fill="#333"/><path d="M466.9 564.52 H473.3" stroke="#fff" stroke-width=".5"/><path d="M466.9 566.52 H473.3" stroke="#fff" stroke-width=".5"/><path d="M466.9 568.52 H473.3" stroke="#fff" stroke-width=".5"/><ellipse cx="470.1" cy="563.52" rx="3.5" ry="1.52" fill="#fff" stroke="#111" stroke-width=".9"/><ellipse cx="470.1" cy="563.52" rx="1.9" ry="0.76" fill="#fff" stroke="#111" stroke-width=".7"/><path d="M465.8 573.75 H474.4" stroke="#111" stroke-width=".9"/><path d="M465.8 576.57 H474.4" stroke="#111" stroke-width=".9"/><path d="M465.8 580.33 H474.4" stroke="#111" stroke-width=".9"/><path d="M465.8 583.15 H474.4" stroke="#111" stroke-width=".9"/><rect x="465.8" y="573.75" width="8.6" height="11.75" fill="none" stroke="#111" stroke-width=".9"/><rect x="474.6" y="569.14" width="8.2" height="21.86" fill="#fff" stroke="#111" stroke-width=".9"/><rect x="475.2" y="569.14" width="7" height="7.05" fill="#333"/><path d="M475.2 570.14 H482.2" stroke="#fff" stroke-width=".5"/><path d="M475.2 572.14 H482.2" stroke="#fff" stroke-width=".5"/><path d="M475.2 574.14 H482.2" stroke="#fff" stroke-width=".5"/><ellipse cx="478.7" cy="569.14" rx="3.8" ry="1.64" fill="#fff" stroke="#111" stroke-width=".9"/><ellipse cx="478.7" cy="569.14" rx="2.05" ry="0.82" fill="#fff" stroke="#111" stroke-width=".7"/><path d="M474.1 579.25 H483.3" stroke="#111" stroke-width=".9"/><path d="M474.1 582.07 H483.3" stroke="#111" stroke-width=".9"/><path d="M474.1 585.83 H483.3" stroke="#111" stroke-width=".9"/><path d="M474.1 588.65 H483.3" stroke="#111" stroke-width=".9"/><rect x="474.1" y="579.25" width="9.2" height="11.75" fill="none" stroke="#111" stroke-width=".9"/><path class="th"  d="M471.2 549.6 L471.2 562"/><path class="th"  d="M478.8 554 L478.8 567.5"/><defs><pattern id="b11" x="466" y="0" width="8" height="3" patternUnits="userSpaceOnUse"><rect width="8" height="3" fill="#fff"/><path d="M0 -6 L4 -2.2 L8 -6M0 -3 L4 0.8 L8 -3M0 0 L4 3.8 L8 0M0 3 L4 6.8 L8 3M0 6 L4 9.8 L8 6" stroke="#222" stroke-width="0.95" fill="none"/></pattern></defs><rect x="466" y="660" width="8" height="58.8" fill="url(#b11)"/><path class="ln" style="stroke-width:1.0" d="M466 660 V718.8 M474 660 V718.8"/><path class="th" d="M469.2 660 v-5 M470.8 660 v-5"/><ellipse cx="470" cy="660" rx="4" ry="2" fill="#fff" stroke="#111" stroke-width="1.1"/><path class="th" d="M469.2 658.5 v2 M470.8 658.5 v2"/><path class="ln" style="stroke-width:1.0" d="M466 718.8 H474"/><defs><pattern id="b12" x="474" y="0" width="8.3" height="3" patternUnits="userSpaceOnUse"><rect width="8.3" height="3" fill="#fff"/><path d="M0 -6 L4.15 -2.06 L8.3 -6M0 -3 L4.15 0.94 L8.3 -3M0 0 L4.15 3.94 L8.3 0M0 3 L4.15 6.94 L8.3 3M0 6 L4.15 9.94 L8.3 6" stroke="#222" stroke-width="0.95" fill="none"/></pattern></defs><rect x="474" y="665" width="8.3" height="60.8" fill="url(#b12)"/><path class="ln" style="stroke-width:1.0" d="M474 665 V725.8 M482.3 665 V725.8"/><path class="th" d="M477.35 665 v-5 M478.95 665 v-5"/><ellipse cx="478.15" cy="665" rx="4.15" ry="2.08" fill="#fff" stroke="#111" stroke-width="1.1"/><path class="th" d="M477.35 663.5 v2 M478.95 663.5 v2"/><path class="ln" style="stroke-width:1.0" d="M474 725.8 H482.3"/><rect x="465.4" y="718.8" width="9.2" height="15" class="wf" style="stroke-width:0.8"/><path class="ln" style="stroke-width:0.8" d="M465.4 722.55 H474.6"/><path class="ln" style="stroke-width:0.8" d="M465.4 726.3 H474.6"/><path class="ln" style="stroke-width:0.8" d="M465.4 730.05 H474.6"/><path class="wf" style="stroke-width:0.8" d="M466.3 733.8 V751.7 A3.7 1.48 0 0 0 473.7 751.7 V733.8 Z"/><path class="ln" style="stroke-width:0.8" d="M466.3 748.7 A3.7 1.48 0 0 0 473.7 748.7"/><rect x="474" y="725.8" width="8.9" height="12" class="wf" style="stroke-width:0.8"/><path class="ln" style="stroke-width:0.8" d="M474 728.8 H482.9"/><path class="ln" style="stroke-width:0.8" d="M474 731.8 H482.9"/><path class="ln" style="stroke-width:0.8" d="M474 734.8 H482.9"/><path class="wf" style="stroke-width:0.8" d="M474.9 737.8 V755.7 A3.55 1.42 0 0 0 482 755.7 V737.8 Z"/><path class="ln" style="stroke-width:0.8" d="M474.9 752.7 A3.55 1.42 0 0 0 482 752.7"/><path class="th" stroke-dasharray="3 1.5" d="M470 752.5 L470 761"/><path class="th" stroke-dasharray="3 1.5" d="M478.5 756.5 L478.5 766"/><path fill="#000" d="M495.2 587.3 L502.5 595.6 H499 V604.5 H491.4 V595.6 H487.9 Z"/><rect x="491.4" y="606.1" width="7.6" height="1.2" fill="#000"/><rect x="491.4" y="608.7" width="7.6" height="1.2" fill="#000"/><path fill="none" stroke="#000" stroke-width="2.6" stroke-linecap="butt" d="M473.5 605.3 C468 610.8 472.5 621.9 481.8 621.4"/><path fill="#000" d="M488.3 621.4 L480.8 616.4 L480.8 626.4 Z"/><text x="548.5" y="670.3" font-size="10" fill="#222" textLength="17.5" lengthAdjust="spacingAndGlyphs">NV9</text><path class="wf" style="stroke-width:.9" d="M532.84 734.67 L546.29 741.62 A2.1 2.1 0 0 0 548.21 737.88 L534.76 730.93 A2.1 2.1 0 0 0 532.84 734.67 Z"/><path class="wf" style="stroke-width:.9" d="M541.4 696 V752.02 A5.95 3.48 0 0 0 553.3 752.02 V696 Z"/><path class="wf" style="stroke-width:.9" d="M541.4 683.68 L544.38 681 L550.32 681 L553.3 683.68 L553.3 694 L550.92 696 L543.78 696 L541.4 694 Z"/><path class="ln" style="stroke-width:.8" d="M541.4 683.68 L544.38 686.36 L550.32 686.36 L553.3 683.68 M544.38 686.36 V696 M550.32 686.36 V696"/><path class="wf" style="stroke-width:.9" d="M549.78 743.41 L559.73 748.56 A2.1 2.1 0 0 0 561.67 744.84 L551.72 739.69 A2.1 2.1 0 0 0 549.78 743.41 Z"/><ellipse class="wf" style="stroke-width:.8" cx="560.7" cy="746.7" rx="1.3" ry="2" transform="rotate(25 560.7 746.7)"/><ellipse class="wf" style="stroke-width:.8" cx="543.7" cy="731.8" rx="1.2" ry="1.8"/><text x="467.5" y="782.7" font-size="19" font-weight="bold" textLength="18.5" lengthAdjust="spacingAndGlyphs" stroke="#000" stroke-width=".4">1a</text></g>
<g id="d1b"><path d="M689.05 522.05 L707.83 512.7 L707.83 519.92 L689.05 530.37 Z" fill="url(#hat)" stroke="#111" stroke-width=".9" stroke-linejoin="round"/><path d="M658.99 532.5 C658.99 526.95 664.08 521.86 674.25 521.03 C680.73 520.84 686.27 521.4 689.05 522.05 L689.05 530.37 C685.35 527.88 679.8 527.41 674.25 527.88 C666.85 528.8 661.3 529.26 658.99 532.5 Z" fill="url(#hat)" stroke="#111" stroke-width=".9" stroke-linejoin="round"/><path d="M646.5 547.3 L665.18 537.59 L665.18 545.45 L646.5 555.25 Z" fill="url(#hat)" stroke="#111" stroke-width=".9" stroke-linejoin="round"/><path class="ln" style="stroke-width:.9" d="M665.18 537.59 C665 535.27 659.45 535.27 658.99 532.5"/><rect x="675.2" y="505" width="4.6" height="18" fill="#444"/><path d="M677.5 506 V523" stroke="#fff" stroke-width=".8" stroke-dasharray="1 1.4"/><path class="th"  stroke-dasharray="5 1.5 1 1.5" d="M668.2 530.5 L668.2 552"/><path class="th"  stroke-dasharray="5 1.5 1 1.5" d="M673.9 530.5 L673.9 565"/><path class="th"  stroke-dasharray="5 1.5 1 1.5" d="M677.9 555.2 L734.5 524.9"/><path class="th"  stroke-dasharray="5 1.5 1 1.5" d="M733.8 524.9 L733.8 644"/><path class="wf" style="stroke-width:.9" d="M653.7 497 A19.6 7.2 0 0 0 693 497 v4.5 A19.6 7.2 0 0 1 653.7 501.5 Z"/><ellipse class="wf" style="stroke-width:.9" cx="673.35" cy="497" rx="19.6" ry="7.2"/><ellipse cx="673.35" cy="497.3" rx="15.2" ry="5" fill="#fff" stroke="#111" stroke-width=".9"/><rect x="675.5" y="493" width="4" height="8" fill="#555"/><path class="wf" style="stroke-width:.9" d="M653.7 486.5 A19.6 7.2 0 0 0 693 486.5 v4.5 A19.6 7.2 0 0 1 653.7 491 Z"/><ellipse class="wf" style="stroke-width:.9" cx="673.35" cy="486.5" rx="19.6" ry="7.2"/><ellipse cx="673.35" cy="486.8" rx="15.2" ry="5" fill="#fff" stroke="#111" stroke-width=".9"/><path d="M661 489.5 A13 3.6 0 0 0 686 489.5" fill="none" stroke="#111" stroke-width=".8"/><rect x="674.5" y="484" width="5.5" height="7.5" fill="url(#hat2)" stroke="#111" stroke-width=".6"/><path d="M664 486 l4 3 M684 486 l-3 3" stroke="#111" stroke-width=".7"/><g><path fill="#fff" d="M657.2 386.13 V478.06 A16.5 5.94 0 0 0 690.2 478.06 V386.13 A16.5 8.5 0 0 0 657.2 386.13 Z"/><path class="ln" style="stroke-width:1.0" d="M690.2 386.13 V478.06 A16.5 5.94 0 0 1 657.2 478.06 V441"/><ellipse class="wf" style="stroke-width:1.0" cx="673.7" cy="386.13" rx="16.5" ry="8.5"/><path class="ln" style="stroke-width:1.6" d="M657.6 407.5 A16.3 5.94 0 0 0 690.2 406.7"/><path fill="#fff" d="M657.78 388.2 L630.62 403.79 C628.1 405.64 627.62 408.91 629.36 412.73 C631.01 416.54 633.92 417.63 636.44 417.09 L666.22 398.34 L670.78 390.38 Z"/><path class="ln" style="stroke-width:1.0" d="M657.78 388.2 L630.62 403.79 C627.91 405.86 627.71 408.91 629.65 410.65 C631.98 412.62 634.89 413.05 637.8 411.96 L666.8 394.19"/><path class="ln" style="stroke-width:1.35" d="M643.62 408.37 L666.8 394.19"/><path class="ln" style="stroke-width:1.0" d="M628.49 407.82 C628.29 410.55 628.78 411.63 629.36 412.73 C631.01 416.54 633.92 417.85 636.44 417.09 L666.22 398.34"/><path class="ln" style="stroke-width:1.6" d="M661.66 384.17 l0 2.18"/><path class="th" d="M669.42 390.82 h3.88 v1.09"/></g><path fill="#fff" d="M657.23 417.06 L633.66 430.08 C617.95 437.94 608.98 448.03 609.43 454.77 C610.1 463.74 615.71 468.68 623.56 469.35 L669.57 441.3 L657.2 441 L680.79 425.14 Z"/><path class="ln" style="stroke-width:1" d="M657.7 408.5 V417.06 C658.8 422.23 667.32 425.59 680.79 425.14"/><path class="ln" style="stroke-width:.9" d="M657.23 417.06 L633.66 430.08"/><path class="ln" style="stroke-width:1.5" d="M633.66 430.08 C617.95 437.94 608.53 448.03 609.43 454.77 C610.32 463.74 615.71 468.68 623.56 469.35"/><path class="ln" style="stroke-width:.9" d="M634.11 431.88 C620.2 439.51 611.67 448.48 611.89 454.77 C612.57 462.62 617.5 467.11 624.24 467.56"/><path class="ln" style="stroke-width:1.5" d="M623.56 469.35 C628.05 457.01 635.91 445.79 649.37 437.94"/><path class="ln" style="stroke-width:.9" d="M624.24 467.56 C628.05 455.89 635.91 443.99 647.58 436.36"/><path class="ln" style="stroke-width:1" d="M633.66 430.08 L649.37 437.94 M634.11 431.88 L647.58 439.06"/><path class="ln" style="stroke-width:1.6" d="M649.37 437.94 L680.79 425.14"/><path class="ln" style="stroke-width:.9" d="M623.56 469.35 L669.57 441.3"/><path class="th"  stroke-dasharray="5 1.5 1 1.5" d="M733.8 524.9 L733.8 540"/><path class="wf" style="stroke-width:0.8"  d="M713 546.9 C713.3 545.55 713.02 542.35 716 540.7 C718.98 539.05 725.95 537 730.9 537 C735.85 537 742.52 538.85 745.7 540.7 C748.88 542.55 750.62 545.02 750 548.1 C749.38 551.18 744.47 556.83 742 559.2 C739.53 561.57 736.43 562.5 735.2 562.3 C733.97 562.1 733.68 559.33 734.6 558 C735.52 556.67 739.88 555.63 740.7 554.3 C741.52 552.97 740.32 550.92 739.5 550 C738.68 549.08 737.65 549 735.8 548.8 C733.95 548.6 729.95 549.73 728.4 548.8 C726.85 547.87 727.93 544.13 726.5 543.2 C725.07 542.27 721.85 542.27 719.8 543.2 C717.75 544.13 715.33 548.18 714.2 548.8 C713.07 549.42 712.7 548.25 713 546.9 Z"/><path class="wf" style="stroke-width:0.9"  d="M713 544.7 C713.3 543.35 713.02 540.15 716 538.5 C718.98 536.85 725.95 534.8 730.9 534.8 C735.85 534.8 742.52 536.65 745.7 538.5 C748.88 540.35 750.62 542.82 750 545.9 C749.38 548.98 744.47 554.63 742 557 C739.53 559.37 736.43 560.3 735.2 560.1 C733.97 559.9 733.68 557.13 734.6 555.8 C735.52 554.47 739.88 553.43 740.7 552.1 C741.52 550.77 740.32 548.72 739.5 547.8 C738.68 546.88 737.65 546.8 735.8 546.6 C733.95 546.4 729.95 547.53 728.4 546.6 C726.85 545.67 727.93 541.93 726.5 541 C725.07 540.07 721.85 540.07 719.8 541 C717.75 541.93 715.33 545.98 714.2 546.6 C713.07 547.22 712.7 546.05 713 544.7 Z"/><ellipse class="wf" style="stroke-width:.8" cx="732.7" cy="544.1" rx="3.2" ry="2.1"/><path class="wf" style="stroke-width:0.8"  d="M713 575.9 C713.3 574.55 713.02 571.35 716 569.7 C718.98 568.05 725.95 566 730.9 566 C735.85 566 742.52 567.85 745.7 569.7 C748.88 571.55 750.62 574.02 750 577.1 C749.38 580.18 744.47 585.83 742 588.2 C739.53 590.57 736.43 591.5 735.2 591.3 C733.97 591.1 733.68 588.33 734.6 587 C735.52 585.67 739.88 584.63 740.7 583.3 C741.52 581.97 740.32 579.92 739.5 579 C738.68 578.08 737.65 578 735.8 577.8 C733.95 577.6 729.95 578.73 728.4 577.8 C726.85 576.87 727.93 573.13 726.5 572.2 C725.07 571.27 721.85 571.27 719.8 572.2 C717.75 573.13 715.33 577.18 714.2 577.8 C713.07 578.42 712.7 577.25 713 575.9 Z"/><path class="wf" style="stroke-width:0.9"  d="M713 573.7 C713.3 572.35 713.02 569.15 716 567.5 C718.98 565.85 725.95 563.8 730.9 563.8 C735.85 563.8 742.52 565.65 745.7 567.5 C748.88 569.35 750.62 571.82 750 574.9 C749.38 577.98 744.47 583.63 742 586 C739.53 588.37 736.43 589.3 735.2 589.1 C733.97 588.9 733.68 586.13 734.6 584.8 C735.52 583.47 739.88 582.43 740.7 581.1 C741.52 579.77 740.32 577.72 739.5 576.8 C738.68 575.88 737.65 575.8 735.8 575.6 C733.95 575.4 729.95 576.53 728.4 575.6 C726.85 574.67 727.93 570.93 726.5 570 C725.07 569.07 721.85 569.07 719.8 570 C717.75 570.93 715.33 574.98 714.2 575.6 C713.07 576.22 712.7 575.05 713 573.7 Z"/><ellipse class="wf" style="stroke-width:.8" cx="732.7" cy="573.1" rx="3.2" ry="2.1"/><path class="wf" style="stroke-width:.9" d="M728.3 601 V613.8 L727.8 615 V620 L730.5 622.3 H736.8 L739.5 620 V615 L739 613.8 V601 Z"/><path d="M728.3 600.5 A5.35 2.2 0 0 1 739 600.5 V606.4 H728.3 Z" fill="#333" stroke="#111" stroke-width=".9"/><ellipse cx="733.65" cy="600.6" rx="3.4" ry="1.2" fill="#999"/><path class="ln" style="stroke-width:.8" d="M727.8 615 L730.5 616.8 H736.8 L739.5 615 M730.5 616.8 V622.3 M736.8 616.8 V622.3"/><text x="739" y="635.4" font-size="10" fill="#222" textLength="22" lengthAdjust="spacingAndGlyphs">NV15</text><path class="th"  stroke-dasharray="5 1.5 1 1.5" d="M733.8 588 L733.8 599"/><path class="th"  stroke-dasharray="5 1.5 1 1.5" d="M733.8 623 L733.8 644"/><path class="wf" style="stroke-width:.9" d="M720.41 693.75 L733.06 700.5 A2.1 2.1 0 0 0 735.04 696.8 L722.39 690.05 A2.1 2.1 0 0 0 720.41 693.75 Z"/><path class="wf" style="stroke-width:.9" d="M728.2 657 V709.73 A5.5 3.22 0 0 0 739.2 709.73 V657 Z"/><path class="wf" style="stroke-width:.9" d="M728.2 646.48 L730.95 644 L736.45 644 L739.2 646.48 L739.2 655 L737 657 L730.4 657 L728.2 655 Z"/><path class="ln" style="stroke-width:.8" d="M728.2 646.48 L730.95 648.95 L736.45 648.95 L739.2 646.48 M730.95 648.95 V657 M736.45 648.95 V657"/><path class="wf" style="stroke-width:.9" d="M736.55 702.3 L745.7 707.25 A2.1 2.1 0 0 0 747.7 703.55 L738.55 698.6 A2.1 2.1 0 0 0 736.55 702.3 Z"/><ellipse class="wf" style="stroke-width:.8" cx="746.7" cy="705.4" rx="1.3" ry="2" transform="rotate(25 746.7 705.4)"/><ellipse class="wf" style="stroke-width:.8" cx="730.2" cy="690.9" rx="1.2" ry="1.8"/><defs><pattern id="b13" x="662.2" y="0" width="8.3" height="3" patternUnits="userSpaceOnUse"><rect width="8.3" height="3" fill="#fff"/><path d="M0 -6 L4.15 -2.06 L8.3 -6M0 -3 L4.15 0.94 L8.3 -3M0 0 L4.15 3.94 L8.3 0M0 3 L4.15 6.94 L8.3 3M0 6 L4.15 9.94 L8.3 6" stroke="#222" stroke-width="0.95" fill="none"/></pattern></defs><rect x="662.2" y="592" width="8.3" height="61" fill="url(#b13)"/><path class="ln" style="stroke-width:1.0" d="M662.2 592 V653 M670.5 592 V653"/><path class="ln" style="stroke-width:1.0" d="M662.2 592 H670.5"/><path d="M662.2 653 A4.15 1.87 0 0 0 670.5 653 Z" fill="url(#b13)" stroke="#111" stroke-width="1.0"/><defs><pattern id="b14" x="670.5" y="0" width="8.3" height="3" patternUnits="userSpaceOnUse"><rect width="8.3" height="3" fill="#fff"/><path d="M0 -6 L4.15 -2.06 L8.3 -6M0 -3 L4.15 0.94 L8.3 -3M0 0 L4.15 3.94 L8.3 0M0 3 L4.15 6.94 L8.3 3M0 6 L4.15 9.94 L8.3 6" stroke="#222" stroke-width="0.95" fill="none"/></pattern></defs><rect x="670.5" y="594.5" width="8.3" height="61.5" fill="url(#b14)"/><path class="ln" style="stroke-width:1.0" d="M670.5 594.5 V656 M678.8 594.5 V656"/><path class="ln" style="stroke-width:1.0" d="M670.5 594.5 H678.8"/><path d="M670.5 656 A4.15 1.87 0 0 0 678.8 656 Z" fill="url(#b14)" stroke="#111" stroke-width="1.0"/><rect x="662.5" y="569.1" width="8" height="22.9" fill="#fff" stroke="#111" stroke-width=".9"/><rect x="663.1" y="569.1" width="6.8" height="7.35" fill="#333"/><path d="M663.1 570.1 H669.9" stroke="#fff" stroke-width=".5"/><path d="M663.1 572.1 H669.9" stroke="#fff" stroke-width=".5"/><path d="M663.1 574.1 H669.9" stroke="#fff" stroke-width=".5"/><ellipse cx="666.5" cy="569.1" rx="3.7" ry="1.6" fill="#fff" stroke="#111" stroke-width=".9"/><ellipse cx="666.5" cy="569.1" rx="2" ry="0.8" fill="#fff" stroke="#111" stroke-width=".7"/><path d="M662 579.75 H671" stroke="#111" stroke-width=".9"/><path d="M662 582.69 H671" stroke="#111" stroke-width=".9"/><path d="M662 586.61 H671" stroke="#111" stroke-width=".9"/><path d="M662 589.55 H671" stroke="#111" stroke-width=".9"/><rect x="662" y="579.75" width="9" height="12.25" fill="none" stroke="#111" stroke-width=".9"/><rect x="671.2" y="572.52" width="7.6" height="21.98" fill="#fff" stroke="#111" stroke-width=".9"/><rect x="671.8" y="572.52" width="6.4" height="7.05" fill="#333"/><path d="M671.8 573.52 H678.2" stroke="#fff" stroke-width=".5"/><path d="M671.8 575.52 H678.2" stroke="#fff" stroke-width=".5"/><path d="M671.8 577.52 H678.2" stroke="#fff" stroke-width=".5"/><ellipse cx="675" cy="572.52" rx="3.5" ry="1.52" fill="#fff" stroke="#111" stroke-width=".9"/><ellipse cx="675" cy="572.52" rx="1.9" ry="0.76" fill="#fff" stroke="#111" stroke-width=".7"/><path d="M670.7 582.75 H679.3" stroke="#111" stroke-width=".9"/><path d="M670.7 585.57 H679.3" stroke="#111" stroke-width=".9"/><path d="M670.7 589.33 H679.3" stroke="#111" stroke-width=".9"/><path d="M670.7 592.15 H679.3" stroke="#111" stroke-width=".9"/><rect x="670.7" y="582.75" width="8.6" height="11.75" fill="none" stroke="#111" stroke-width=".9"/><path class="th"  d="M667.6 556.3 L667.6 567.5"/><path class="th"  d="M673.9 558.5 L673.9 571"/><defs><pattern id="b15" x="662.3" y="0" width="8" height="3" patternUnits="userSpaceOnUse"><rect width="8" height="3" fill="#fff"/><path d="M0 -6 L4 -2.2 L8 -6M0 -3 L4 0.8 L8 -3M0 0 L4 3.8 L8 0M0 3 L4 6.8 L8 3M0 6 L4 9.8 L8 6" stroke="#222" stroke-width="0.95" fill="none"/></pattern></defs><rect x="662.3" y="658" width="8" height="53.8" fill="url(#b15)"/><path class="ln" style="stroke-width:1.0" d="M662.3 658 V711.8 M670.3 658 V711.8"/><path class="th" d="M665.5 658 v-5 M667.1 658 v-5"/><ellipse cx="666.3" cy="658" rx="4" ry="2" fill="#fff" stroke="#111" stroke-width="1.1"/><path class="th" d="M665.5 656.5 v2 M667.1 656.5 v2"/><path class="ln" style="stroke-width:1.0" d="M662.3 711.8 H670.3"/><defs><pattern id="b16" x="670.3" y="0" width="8.6" height="3" patternUnits="userSpaceOnUse"><rect width="8.6" height="3" fill="#fff"/><path d="M0 -6 L4.3 -1.91 L8.6 -6M0 -3 L4.3 1.09 L8.6 -3M0 0 L4.3 4.09 L8.6 0M0 3 L4.3 7.09 L8.6 3M0 6 L4.3 10.09 L8.6 6" stroke="#222" stroke-width="0.95" fill="none"/></pattern></defs><rect x="670.3" y="663" width="8.6" height="55.8" fill="url(#b16)"/><path class="ln" style="stroke-width:1.0" d="M670.3 663 V718.8 M678.9 663 V718.8"/><path class="th" d="M673.8 663 v-5 M675.4 663 v-5"/><ellipse cx="674.6" cy="663" rx="4.3" ry="2.15" fill="#fff" stroke="#111" stroke-width="1.1"/><path class="th" d="M673.8 661.5 v2 M675.4 661.5 v2"/><path class="ln" style="stroke-width:1.0" d="M670.3 718.8 H678.9"/><rect x="661.7" y="711.8" width="9.2" height="14" class="wf" style="stroke-width:0.8"/><path class="ln" style="stroke-width:0.8" d="M661.7 715.3 H670.9"/><path class="ln" style="stroke-width:0.8" d="M661.7 718.8 H670.9"/><path class="ln" style="stroke-width:0.8" d="M661.7 722.3 H670.9"/><path class="wf" style="stroke-width:0.8" d="M662.6 725.8 V741.8 A3.7 1.48 0 0 0 670 741.8 V725.8 Z"/><path class="ln" style="stroke-width:0.8" d="M662.6 738.8 A3.7 1.48 0 0 0 670 738.8"/><rect x="670.4" y="718.8" width="9.1" height="10" class="wf" style="stroke-width:0.8"/><path class="ln" style="stroke-width:0.8" d="M670.4 721.3 H679.5"/><path class="ln" style="stroke-width:0.8" d="M670.4 723.8 H679.5"/><path class="ln" style="stroke-width:0.8" d="M670.4 726.3 H679.5"/><path class="wf" style="stroke-width:0.8" d="M671.3 728.8 V745.7 A3.65 1.46 0 0 0 678.6 745.7 V728.8 Z"/><path class="ln" style="stroke-width:0.8" d="M671.3 742.7 A3.65 1.46 0 0 0 678.6 742.7"/><path class="th" stroke-dasharray="3 1.5" d="M666.3 742.5 L666.3 752"/><path class="th" stroke-dasharray="3 1.5" d="M675 746.5 L675 756"/><path fill="#000" d="M689.6 589.5 L696.6 597.8 H693 V605.7 H686.2 V597.8 H682.6 Z"/><rect x="686.2" y="607.3" width="6.8" height="1.2" fill="#000"/><rect x="686.2" y="609.9" width="6.8" height="1.2" fill="#000"/><path fill="none" stroke="#000" stroke-width="2.6" stroke-linecap="butt" d="M670 607.5 C664.5 613 669 621.9 678.5 621.4"/><path fill="#000" d="M685 621.4 L677.5 616.4 L677.5 626.4 Z"/><text x="661" y="777.7" font-size="19" font-weight="bold" textLength="19" lengthAdjust="spacingAndGlyphs" stroke="#000" stroke-width=".4">1b</text></g>
<g id="box1"><path d="M82.4 949 V956 C82.4 964 76 967.5 70 966.5 C62 965 52 966 49.5 976 C48 984 56 987 62 985.5 C70 983.5 82.4 982 82.4 994 V1001" fill="none" stroke="#111" stroke-width="7.3" stroke-linecap="butt" stroke-linejoin="round"/><path d="M82.4 949 V956 C82.4 964 76 967.5 70 966.5 C62 965 52 966 49.5 976 C48 984 56 987 62 985.5 C70 983.5 82.4 982 82.4 994 V1001" fill="none" stroke="#fff" stroke-width="5.6" stroke-linecap="butt" stroke-linejoin="round"/><rect x="79.7" y="932" width="5.4" height="6.5" fill="#333" stroke="#111" stroke-width=".7"/><path d="M79.9 933.2 h5" stroke="#fff" stroke-width=".45"/><path d="M79.9 935 h5" stroke="#fff" stroke-width=".45"/><path d="M79.9 936.8 h5" stroke="#fff" stroke-width=".45"/><rect x="78.8" y="938.5" width="7.2" height="11.5" class="wf" style="stroke-width:.8"/><path class="ln" style="stroke-width:.7" d="M78.8 942.52 h7.2"/><path class="ln" style="stroke-width:.7" d="M78.8 946.55 h7.2"/><rect x="78.8" y="1000" width="7.2" height="9.5" class="wf" style="stroke-width:.8"/><path class="ln" style="stroke-width:.7" d="M78.8 1003.33 h7.2"/><path class="ln" style="stroke-width:.7" d="M78.8 1006.65 h7.2"/><rect x="79.6" y="1009.5" width="5.6" height="2.2" fill="#333"/><rect x="79.7" y="1011.7" width="5.4" height="15.8" class="wf" style="stroke-width:.8"/><path class="ln" style="stroke-width:.7" d="M79.7 1023 h5.4"/><path class="th"  d="M52.3 955.4 L88.3 1001"/><path class="th"  d="M91.5 950 L49 1002"/><circle cx="140.2" cy="970.2" r="13.25" fill="none" stroke="#111" stroke-width="8.2"/><circle cx="140.2" cy="970.2" r="13.25" fill="none" stroke="#fff" stroke-width="6.5"/><path d="M151.5 963 L163 986" fill="none" stroke="#111" stroke-width="8" stroke-linecap="butt" stroke-linejoin="round"/><path d="M151.5 963 L163 986" fill="none" stroke="#fff" stroke-width="6.3" stroke-linecap="butt" stroke-linejoin="round"/><path d="M159.7 945 L154.6 966 C154 969 153.6 971 153.4 973" fill="none" stroke="#111" stroke-width="8" stroke-linecap="butt" stroke-linejoin="round"/><path d="M159.7 945 L154.6 966 C154 969 153.6 971 153.4 973" fill="none" stroke="#fff" stroke-width="6.3" stroke-linecap="butt" stroke-linejoin="round"/><path d="M153.4 973 l0 2" stroke="#fff" stroke-width="6.3"/><g transform="translate(164 927) rotate(14)"><rect x="-2.5" y="0" width="5" height="6" fill="#333" stroke="#111" stroke-width=".7"/><path d="M-2.3 1.2 h4.6" stroke="#fff" stroke-width=".45"/><path d="M-2.3 3 h4.6" stroke="#fff" stroke-width=".45"/><path d="M-2.3 4.8 h4.6" stroke="#fff" stroke-width=".45"/><rect x="-3.4" y="6" width="6.8" height="14" class="wf" style="stroke-width:.8"/><path class="ln" style="stroke-width:.7" d="M-3.4 10.9 h6.8"/><path class="ln" style="stroke-width:.7" d="M-3.4 15.8 h6.8"/></g><g transform="translate(162.2 984.5) rotate(-28)"><rect x="-3.4" y="0" width="6.8" height="11" class="wf" style="stroke-width:.8"/><path class="ln" style="stroke-width:.7" d="M-3.4 3.85 h6.8"/><path class="ln" style="stroke-width:.7" d="M-3.4 7.7 h6.8"/><rect x="-2.6" y="11" width="5.2" height="2.2" fill="#333"/><rect x="-2.5" y="13.2" width="5" height="16.8" class="wf" style="stroke-width:.8"/><path class="ln" style="stroke-width:.7" d="M-2.5 25.5 h5"/></g><path class="th"  d="M100 979.8 L152.9 1018"/><path class="th"  d="M113.7 989.3 L130.7 967"/><path class="th"  d="M129.6 1001 L145.5 979.8"/><path fill="#222" stroke="#222" stroke-width=".4" d="M112.9 989 L104.28 984.91 L106.12 982.29 Z"/><path fill="#222" stroke="#222" stroke-width=".4" d="M129.6 1001 L137.93 1005 L136.07 1007.6 Z"/><text transform="translate(132.5 1000.2) rotate(35.5)" font-size="9.5" fill="#222" font-weight="normal" textLength="30" lengthAdjust="spacingAndGlyphs" >min.ø60</text><g transform="translate(198 996.7) rotate(24.5)"><path class="wf" style="stroke-width:.9" d="M14 -1.5 L56 -3 A3 3 0 0 1 56 3.2 L14 4.5 Z"/><path class="ln" style="stroke-width:.6" d="M16 1.5 L54 0.3"/><ellipse class="wf" style="stroke-width:.7" cx="55.5" cy="0.2" rx="1.4" ry="1.4"/><path class="wf" style="stroke-width:.9" d="M2 -6 L0 -1 L1 5 L8 6 L15 5 L16 -2 L13 -7 L9 -9 L8 -5 L10 -2 L6 -1 L5 -5 Z"/><rect x="9" y="-4" width="4.5" height="4" fill="#333"/></g><path class="th"  d="M204.4 983 L235 1027.5"/><path class="th"  d="M234.7 987.8 L206.5 1022"/><rect x="256.7" y="926" width="7" height="96" class="wf" style="stroke-width:.85"/><path class="th" d="M257 941 L263.4 975 M257 945 L263.2 968 M263.4 975 L257 1012 M263.2 982 L257.2 1004"/><rect x="257.5" y="908.8" width="5.4" height="5.2" fill="#333" stroke="#111" stroke-width=".7"/><path d="M257.7 910 h5" stroke="#fff" stroke-width=".45"/><path d="M257.7 911.8 h5" stroke="#fff" stroke-width=".45"/><rect x="256.6" y="914" width="7.2" height="12.8" class="wf" style="stroke-width:.8"/><path class="ln" style="stroke-width:.7" d="M256.6 918.48 h7.2"/><path class="ln" style="stroke-width:.7" d="M256.6 922.96 h7.2"/><rect x="256.6" y="1021" width="7.2" height="9.6" class="wf" style="stroke-width:.8"/><path class="ln" style="stroke-width:.7" d="M256.6 1024.36 h7.2"/><path class="ln" style="stroke-width:.7" d="M256.6 1027.72 h7.2"/><rect x="257.4" y="1030.6" width="5.6" height="2.2" fill="#333"/><rect x="257.5" y="1032.8" width="5.4" height="15.9" class="wf" style="stroke-width:.8"/><path class="ln" style="stroke-width:.7" d="M257.5 1044.2 h5.4"/><path d="M251 908.5 C248 913 252 918 260.5 918 C268 918 272.5 913.5 269.5 908" fill="none" stroke="#000" stroke-width="2.4"/><path d="M263.5 905.2 L270.8 906.2 L266.5 910.8 Z" fill="#000"/><path d="M251.5 909.5 C253 906.5 255 905.5 257 905.3" fill="none" stroke="#000" stroke-width="2"/><path class="th"  d="M243.6 951.2 L280.7 999.3"/><path class="th"  d="M283.2 947 L240.8 999.3"/><rect x="309.3" y="926" width="6.4" height="96" class="wf" style="stroke-width:.85"/><rect x="310" y="908.8" width="5" height="8.5" fill="#333" stroke="#111" stroke-width=".7"/><path d="M310.2 910 h4.6" stroke="#fff" stroke-width=".45"/><path d="M310.2 911.8 h4.6" stroke="#fff" stroke-width=".45"/><path d="M310.2 913.6 h4.6" stroke="#fff" stroke-width=".45"/><path d="M310.2 915.4 h4.6" stroke="#fff" stroke-width=".45"/><rect x="309.1" y="917.3" width="6.8" height="9.5" class="wf" style="stroke-width:.8"/><path class="ln" style="stroke-width:.7" d="M309.1 920.62 h6.8"/><path class="ln" style="stroke-width:.7" d="M309.1 923.95 h6.8"/><rect x="309.1" y="1021" width="6.8" height="9.6" class="wf" style="stroke-width:.8"/><path class="ln" style="stroke-width:.7" d="M309.1 1024.36 h6.8"/><path class="ln" style="stroke-width:.7" d="M309.1 1027.72 h6.8"/><rect x="309.9" y="1030.6" width="5.2" height="2.2" fill="#333"/><rect x="310" y="1032.8" width="5" height="15.9" class="wf" style="stroke-width:.8"/><path class="ln" style="stroke-width:.7" d="M310 1044.2 h5"/><path class="ln" style="stroke-width:.8" d="M286 1065.6 C289 1058 291 1050 295.5 1043.4 C298 1038 301 1033 304 1030.6 C306 1028 309 1026.5 310 1028.5 C311 1031 308 1032 306.5 1034 C304 1039 304.5 1047 308 1050.5 C311 1053 316 1053.5 320 1051"/><path class="ln" style="stroke-width:.8" d="M318 1028 C322 1027 326 1029.5 329 1033 C333 1037 337 1041 336.5 1045.5 C336 1050 334 1054 331.5 1057.5 C326 1064 314 1068.5 304.5 1071.5"/><path class="ln" style="stroke-width:.7" d="M316.5 1033 C320 1036 323 1040 326 1043.5 M318 1041 C321 1043 324 1046 326.5 1048 M316 1047.5 C320 1047 324 1046 327 1043 M325 1036 L322 1040 M328 1046 C328 1049 326 1051 323 1052"/></g>
<g id="box2"><text x="552" y="847.7" font-size="19" font-weight="bold" textLength="47.5" lengthAdjust="spacingAndGlyphs" stroke="#000" stroke-width=".4">35000</text><path class="ln" style="stroke-width:.9" d="M597.3 957.9 C625 958 660 966 696 986 C722 1001 742 1028 748.7 1059"/><path class="ln" style="stroke-width:.9" d="M592.8 984.8 C625 987 655 996 676 1015 C692 1030 700 1050 700 1074"/><g><path fill="#fff" d="M665.8 853.64 V997.56 A15.1 5.44 0 0 0 696 997.56 V853.64 A15.1 8.03 0 0 0 665.8 853.64 Z"/><path class="ln" style="stroke-width:1.0" d="M696 853.64 V997.56 A15.1 5.44 0 0 1 665.8 997.56 V921"/><ellipse class="wf" style="stroke-width:1.0" cx="680.9" cy="853.64" rx="15.1" ry="8.03"/><path class="ln" style="stroke-width:1.6" d="M666.2 875.5 A14.9 5.44 0 0 0 696 874.7"/><path fill="#fff" d="M666.08 854.57 L640.59 870.33 C638.2 872.08 637.74 875.17 639.4 878.77 C640.96 882.38 643.72 883.41 646.11 882.89 L674.36 865.18 L678.68 857.66 Z"/><path class="ln" style="stroke-width:1.0" d="M666.08 854.57 L640.59 870.33 C638.02 872.29 637.83 875.17 639.67 876.82 C641.88 878.67 644.64 879.08 647.4 878.05 L674.91 861.26"/><path class="ln" style="stroke-width:1.35" d="M652.92 874.65 L674.91 861.26"/><path class="ln" style="stroke-width:1.0" d="M638.57 874.14 C638.38 876.71 638.84 877.75 639.4 878.77 C640.96 882.38 643.72 883.62 646.11 882.89 L674.36 865.18"/><path class="ln" style="stroke-width:1.6" d="M670.03 851.79 l0 2.06"/><path class="th" d="M677.39 858.07 h3.68 v1.03"/></g><path class="ln" style="stroke-width:1" d="M665.8 894 A15.1 5.4 0 0 0 696 893"/><path class="ln" style="stroke-width:1" d="M665.8 876 V895"/><path fill="#fff" d="M665.77 895.08 L576.01 947.82 C571.52 950.74 569.95 952.98 570.39 956.12 L571.52 964.65 C573.76 969.59 580.49 970.93 584.98 970.04 C591.71 969.14 596.65 967.34 596.88 964.2 L665.77 920.89 L684.4 911.91 L683.73 905.85 L680.36 897.32 Z"/><path class="ln" style="stroke-width:1" d="M665.77 895.08 L576.01 947.82 C571.74 950.51 569.72 952.98 570.62 956.12 C571.74 959.71 582.74 962.85 595.08 959.04"/><path class="ln" style="stroke-width:1.6" d="M595.08 959.04 L682.6 905.18"/><path class="ln" style="stroke-width:1" d="M682.6 905.18 C684.4 906.3 684.85 908.99 684.4 911.91 L678.11 914.83"/><path class="th" d="M667.34 898 L579.82 950.06 C576.01 952.98 580.49 958.37 588.8 956.35 L678.56 906.97"/><path class="ln" style="stroke-width:1" d="M570.62 956.12 L571.52 964.65 C573.76 969.59 580.49 970.93 584.98 970.04 C591.71 969.14 596.65 967.34 596.88 964.2 L596.88 959.71"/><path class="ln" style="stroke-width:1" d="M596.88 964.2 L665.77 920.89"/><path class="th"  d="M679.24 895.08 L537.85 941.09"/><path class="th"  d="M679.24 895.08 L592.84 984.85"/><path class="th"  d="M679.24 895.08 L551.32 970.26"/><path class="th"  d="M553.56 956.35 L571.52 956.35"/><path class="ln" style="stroke-width:.8" d="M537.85 941.09 C538.98 955.67 543.46 964.65 551.32 971.38 C561.42 979.24 577.13 983.73 592.84 984.85"/><path class="ln" style="stroke-width:1.1" d="M556.93 984.4 L592.84 984.4"/><path fill="#000" stroke="#000" stroke-width=".4" d="M537.85 941.09 L540.55 946.85 L537.4 947.44 Z"/><path fill="#000" stroke="#000" stroke-width=".4" d="M551.32 971.38 L545 967.1 L547.31 964.89 Z"/><path fill="#000" stroke="#000" stroke-width=".4" d="M551.32 971.38 L557.39 973.66 L555.57 976.29 Z"/><path fill="#000" stroke="#000" stroke-width=".4" d="M592.84 984.62 L585.94 985.54 L586.26 982.36 Z"/><text transform="translate(539.43 952.31) rotate(58)" font-size="9.5" fill="#222" font-weight="normal" textLength="13" lengthAdjust="spacingAndGlyphs" >60°</text><text transform="translate(565.91 976.99) rotate(14)" font-size="9.5" fill="#222" font-weight="normal" textLength="14" lengthAdjust="spacingAndGlyphs" >60°</text></g>
<!-- FRAMES -->
<rect x="35.5" y="899.5" width="310" height="183" fill="none" stroke="#000" stroke-width="1"/>
<rect x="530.5" y="827.5" width="232" height="255" fill="none" stroke="#000" stroke-width="1"/>
<text x="396.3" y="1109" font-size="15" style="font-family:'Liberation Serif',serif">1</text>
</svg>
</body></html>
